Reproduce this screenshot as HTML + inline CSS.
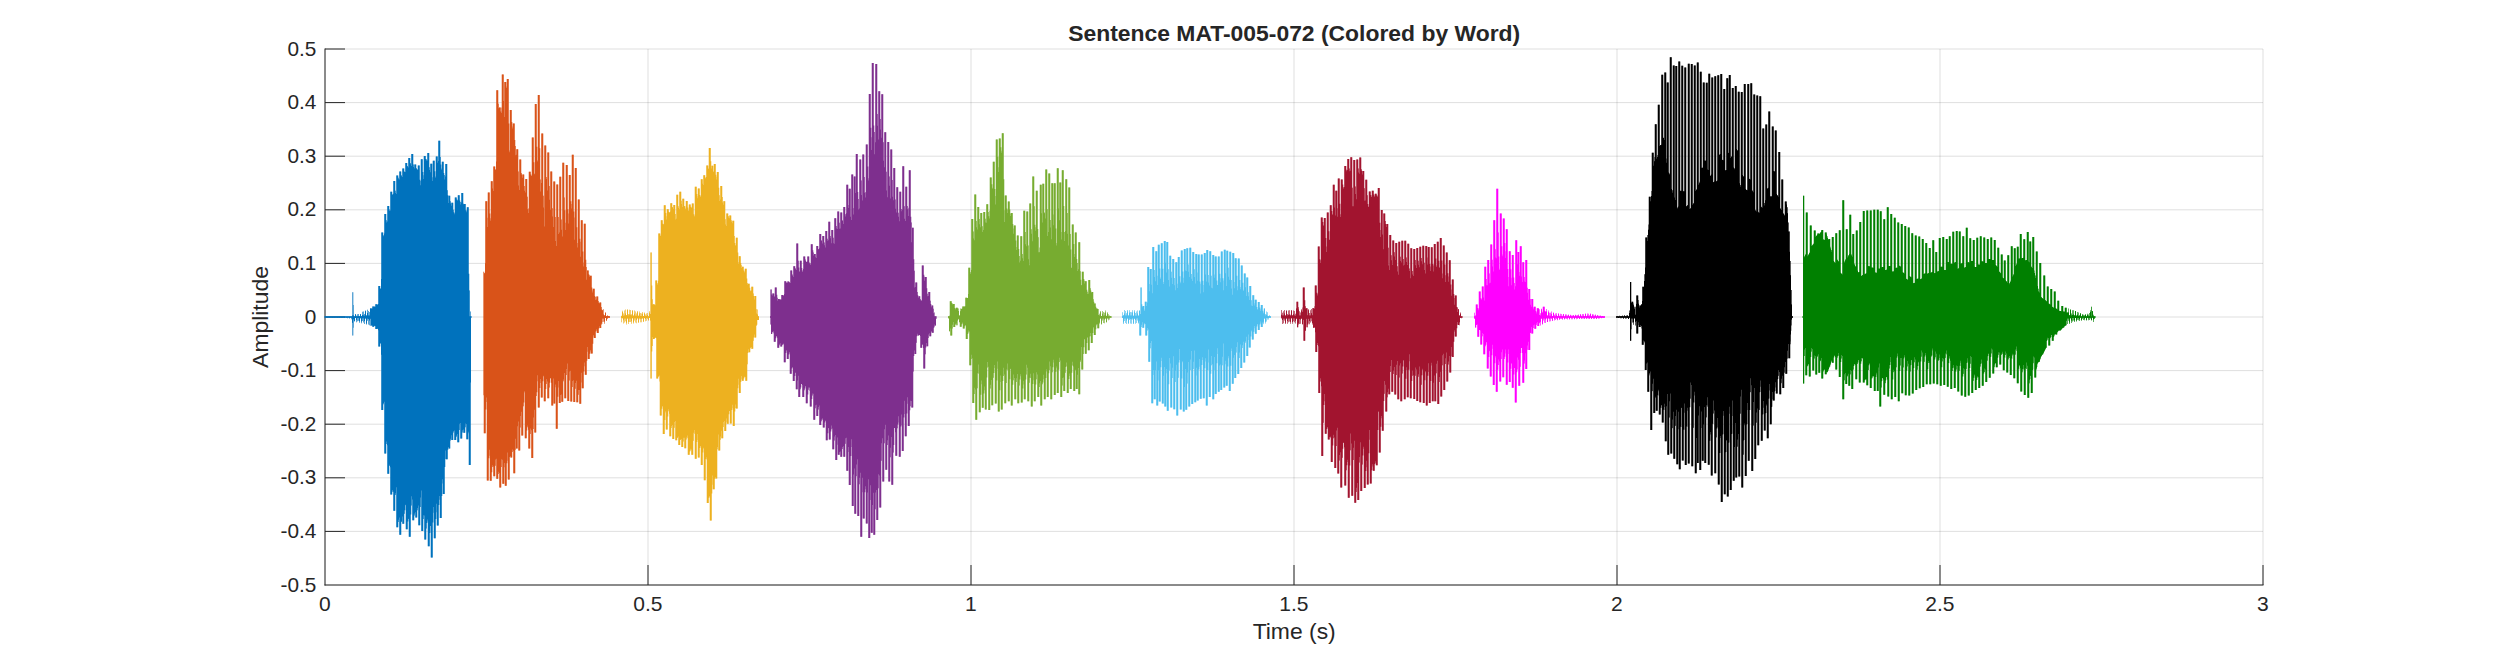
<!DOCTYPE html><html><head><meta charset="utf-8"><title>Sentence MAT-005-072 (Colored by Word)</title><style>html,body{margin:0;padding:0;background:#fff}svg{display:block}</style></head><body><svg width="2500" height="657" viewBox="0 0 2500 657">
<rect width="2500" height="657" fill="#fff"/>
<path d="M325.0,49.0V585.0M648.0,49.0V585.0M971.0,49.0V585.0M1294.0,49.0V585.0M1617.0,49.0V585.0M1940.0,49.0V585.0M2263.0,49.0V585.0M325.0,49.0H2263.0M325.0,102.6H2263.0M325.0,156.2H2263.0M325.0,209.8H2263.0M325.0,263.4H2263.0M325.0,317.0H2263.0M325.0,370.6H2263.0M325.0,424.2H2263.0M325.0,477.8H2263.0M325.0,531.4H2263.0M325.0,585.0H2263.0" stroke="#262626" stroke-opacity="0.15" stroke-width="1" fill="none"/>
<path d="M325.0,48.5V585.5M324.5,585.0H2263.5M648.0,585.0v-20M971.0,585.0v-20M1294.0,585.0v-20M1617.0,585.0v-20M1940.0,585.0v-20M2263.0,585.0v-20M325.0,49.0h20M325.0,102.6h20M325.0,156.2h20M325.0,209.8h20M325.0,263.4h20M325.0,317.0h20M325.0,370.6h20M325.0,424.2h20M325.0,477.8h20M325.0,531.4h20" stroke="#262626" stroke-width="1" fill="none"/>
<path fill="#0072BD" opacity="0.55" d="M324.5,316.2H326V316.2H326.5V316.2H328.5V316.2H329V316.2H331V316.2H331.5V316.2H333.5V316.2H334V316.2H335.5V316.2H336.5V316.2H338V316.2H338.5V316.2H340.5V316.2H341V316.2H343V316.2H343.5V316.2H345.5V316.2H346V316.2H348V316.2H348.5V316.2H350.5V316.2H351V316.2H352V315.5H352.5V292.3H353.5V315.5H354V316.2H355V314.4H355.5V314.1H356V315.7H356.5V316.2H357.5V314.3H358V314.1H358.5V315.9H359V316.2H359.5V316.0H360V314.1H360.5V314.2H361V316.0H361.5V316.2H362V315.1H362.5V311.8H363V311.6H363.5V315.5H364V315.8H364.5V313.9H365V310.5H365.5V311.2H366V315.6H367V313.0H367.5V309.7H368V311.0H368.5V315.5H369.5V311.9H370V308.6H370.5V308.3H371.5V308.4H372V306.4H374.5V306.6H375V304.3H377.5V304.6H378V285.9H380.5V288.4H381V232.6H383.5V235.3H384V214.1H386.5V220.3H387V206.0H389.5V209.6H390V191.8H392.5V194.2H393V180.9H395.5V190.7H396V175.6H398.5V177.8H399V171.6H401.5V175.3H402V168.6H404.5V171.5H405V163.0H407.5V166.2H408V157.9H410.5V162.9H411V153.9H413.5V164.4H414V164.5H416.5V168.0H417V169.1H417.5V165.4H420V179.8H420.5V159.2H423V171.9H423.5V155.9H426V159.1H426.5V159.5H427V153.0H429.5V167.3H430V163.7H432.5V160.8H435V171.3H435.5V156.5H438V140.7H440.5V157.1H441V164.4H441.5V161.8H444V173.0H444.5V175.1H445V164.1H447.5V190.2H448V195.3H448.5V195.8H450.5V201.2H451V202.8H453.5V209.8H454V212.3H454.5V197.5H457V199.5H457.5V195.2H460V200.5H460.5V202.1H461V192.9H463.5V203.7H464V203.9H466V210.2H466.5V207.3H469V273.7H469.5V290.4H470V316.2H470.5V311.6H471V316.2H471.5V317.8H471V464.9H470.5V464.9H470V464.9H469.5V464.9H469V464.9H468.5V439.3H468V439.3H467.5V439.3H467V439.3H466.5V439.3H466V427.3H465.5V432.7H465V432.7H464.5V432.7H464V432.7H463.5V432.7H463V432.5H462.5V438.6H462V438.6H461.5V438.6H461V438.6H460.5V438.6H460V429.9H459.5V442.3H459V442.3H458.5V442.3H458V442.3H457.5V442.3H457V436.7H456.5V439.9H456V439.9H455.5V439.9H455V439.9H454.5V439.9H454V432.4H453.5V439.9H453V439.9H452.5V439.9H452V439.9H451.5V439.9H451V440.4H450.5V448.6H450V448.6H449.5V448.6H449V448.6H448.5V449.7H448V459.3H447.5V459.3H447V459.3H446.5V459.3H446V459.3H445.5V467.0H445V494.1H444.5V494.1H444V494.1H443.5V494.1H443V494.1H442.5V495.9H442V518.1H441.5V518.1H441V518.1H440.5V518.1H440V518.1H439.5V505.1H439V525.4H438.5V525.4H438V525.4H437.5V525.4H437V525.4H436.5V519.0H436V538.2H435.5V538.2H435V538.2H434.5V538.2H434V538.2H433.5V522.6H433V557.4H432.5V557.4H432V557.4H431.5V557.4H431V557.4H430.5V533.1H430V546.2H429.5V546.2H429V546.2H428.5V546.2H428V546.2H427.5V523.0H427V528.6H426.5V539.4H426V539.4H425.5V539.4H425V539.4H424.5V539.4H424V518.9H423.5V531.0H423V531.0H422.5V531.0H422V531.0H421.5V531.0H421V507.0H420.5V525.3H420V525.3H419.5V525.3H419V525.3H418.5V525.3H418V510.3H417.5V517.5H417V517.5H416.5V517.5H416V517.5H415.5V517.5H415V515.6H414.5V520.3H414V520.3H413.5V520.3H413V520.3H412.5V520.3H412V505.5H411.5V514.5H411V536.8H410.5V536.8H410V536.8H409.5V536.8H409V536.8H408.5V521.6H408V529.3H407.5V529.3H407V529.3H406.5V529.3H406V529.3H405.5V510.2H405V513.7H404.5V523.8H404V523.8H403.5V523.8H403V523.8H402.5V523.8H402V522.0H401.5V534.8H401V534.8H400.5V534.8H400V534.8H399.5V534.8H399V522.1H398.5V527.3H398V527.3H397.5V527.3H397V527.3H396.5V527.3H396V495.0H395.5V510.8H395V510.8H394.5V510.8H394V510.8H393.5V510.8H393V491.7H392.5V494.5H392V494.5H391.5V494.5H391V494.5H390.5V494.5H390V466.1H389.5V473.8H389V473.8H388.5V473.8H388V473.8H387.5V473.8H387V444.0H386.5V453.4H386V453.4H385.5V453.4H385V453.4H384.5V453.4H384V404.2H383.5V410.0H383V410.0H382.5V410.0H382V410.0H381.5V410.0H381V343.4H380.5V346.4H380V346.4H379.5V346.4H379V346.4H378.5V346.4H378V328.8H377.5V329.0H377V329.0H376.5V329.0H376V329.0H375.5V329.0H375V326.1H374.5V326.7H374V326.7H373.5V326.7H373V326.7H372.5V326.7H372V325.5H371.5V325.7H371V325.7H370.5V318.7H370V320.5H369.5V325.2H369V324.5H368.5V318.9H368V318.6H367.5V320.8H367V324.6H366.5V323.5H366V318.5H365.5V318.4H365V321.0H364.5V324.0H364V322.5H363.5V318.3H363V318.3H362.5V321.1H362V323.3H361.5V321.6H361V318.2H360.5V318.2H360V321.2H359.5V322.8H359V320.8H358.5V318.1H358V318.1H357.5V321.2H357V322.2H356.5V320.1H356V318.0H355.5V318.0H355V320.9H354.5V321.4H354V319.2H353.5V335.5H353V335.5H352.5V322.7H352V319.2H351.5V317.8H351V317.8H350.5V317.8H350V318.2H349.5V318.2H349V317.8H348.5V317.8H348V317.8H347.5V318.2H347V318.1H346.5V317.8H346V317.8H345.5V317.8H345V318.1H344.5V318.0H344V317.8H343.5V317.8H343V317.8H342.5V318.1H342V317.9H341.5V317.8H341V317.8H340.5V317.8H340V318.1H339.5V317.8H339V317.8H338.5V317.8H338V317.8H337.5V318.0H337V317.8H336.5V317.8H336V317.8H335.5V317.8H335V318.0H334.5V317.8H334V317.8H333.5V317.8H333V317.8H332.5V317.9H332V317.8H331.5V317.8H331V317.8H330.5V317.8H330V317.9H329.5V317.8H329V317.8H328.5V317.8H328V317.8H327.5V317.9H327V317.8H326.5V317.8H326V317.8H325.5V317.8H325V317.8H324.5Z"/>
<path fill="#0072BD" d="M324.5,316.2H326V316.2H326.5V316.2H328.5V316.2H329V316.2H331V316.2H331.5V316.2H333.5V316.2H334V316.2H335.5V316.2H336.5V316.2H338V316.2H338.5V316.2H340.5V316.2H341V316.2H343V316.2H343.5V316.2H345.5V316.2H346V316.2H348V316.2H348.5V316.2H350.5V316.2H351V316.2H352V315.5H352.5V292.3H353V305.1H353.5V315.5H354V316.2H355V314.4H355.5V314.1H356V315.7H356.5V316.2H357.5V314.3H358V314.1H358.5V315.9H359V316.2H359.5V316.0H360V314.1H360.5V314.2H361V316.0H361.5V316.2H362V315.1H362.5V311.8H363V311.6H363.5V315.5H364V315.8H364.5V313.9H365V310.5H365.5V311.2H366V315.6H367V313.0H367.5V309.7H368V311.0H368.5V315.5H369.5V311.9H370V308.6H370.5V308.3H371V308.4H371.5V308.5H372.5V306.4H374V306.6H374.5V306.7H375.5V304.3H377V304.6H377.5V304.7H378V304.1H378.5V285.9H380V288.4H380.5V288.7H381V279.1H381.5V232.6H383V235.3H383.5V236.3H384V233.5H384.5V214.1H386V220.3H386.5V222.6H387V221.4H387.5V206.0H389V209.6H389.5V210.9H390V210.5H390.5V191.8H392V194.2H392.5V194.9H393V193.8H393.5V180.9H395V190.7H395.5V193.0H396V193.9H396.5V175.6H398V177.8H398.5V179.3H399V179.5H399.5V171.6H401V175.3H401.5V176.3H402V177.0H402.5V168.6H404V171.5H404.5V171.9H405.5V163.0H407V166.2H407.5V166.3H408V167.5H408.5V157.9H410V162.9H410.5V164.2H411V166.1H411.5V153.9H413V164.4H413.5V167.1H414V168.4H414.5V164.5H416V168.0H416.5V169.1H417V169.9H417.5V169.5H418V165.4H419.5V179.8H420V181.0H420.5V185.2H421V159.2H422.5V171.9H423V175.2H423.5V179.0H424V155.9H425.5V159.1H426V159.5H426.5V160.7H427V160.4H427.5V153.0H429V167.3H429.5V170.1H430V172.2H430.5V163.7H432V177.3H432.5V181.0H433V160.8H434.5V171.3H435V176.5H435.5V177.8H436V156.5H437.5V162.8H438V161.1H438.5V140.7H440V157.1H440.5V164.4H441V169.7H441.5V168.4H442V161.8H443.5V173.0H444V175.1H444.5V179.4H445V176.5H445.5V164.1H447V190.2H447.5V195.3H448V203.0H448.5V195.8H450V201.2H450.5V203.6H451V205.7H451.5V202.8H453V209.8H453.5V212.3H454V214.3H454.5V213.1H455V197.5H456.5V199.5H457V200.6H457.5V200.3H458V195.2H459.5V200.5H460V202.1H460.5V204.4H461V202.5H461.5V192.9H463V203.7H463.5V204.3H464V203.9H465.5V210.2H466V210.7H466.5V212.3H467V207.3H468.5V273.7H469V290.4H469.5V316.2H470.5V311.6H471V316.2H471.5V317.8H471V382.5H470.5V464.9H470V464.9H469.5V464.9H469V433.3H468.5V431.8H468V439.3H467.5V439.3H467V439.3H466.5V424.1H466V423.6H465.5V427.3H465V432.7H464.5V432.7H464V432.7H463.5V429.5H463V430.3H462.5V432.5H462V438.6H461.5V438.6H461V438.6H460.5V422.9H460V423.8H459.5V429.9H459V442.3H458.5V442.3H458V442.3H457.5V434.0H457V435.6H456.5V436.7H456V439.9H455.5V439.9H455V439.9H454.5V430.5H454V431.0H453.5V432.4H453V439.9H452.5V439.9H452V439.9H451.5V435.2H451V438.7H450.5V440.4H450V448.6H449.5V448.6H449V448.6H448.5V447.1H448V449.7H447.5V459.3H447V459.3H446.5V459.3H446V450.5H445.5V459.0H445V467.0H444.5V494.1H444V494.1H443.5V494.1H443V479.2H442.5V483.5H442V495.9H441.5V518.1H441V518.1H440.5V518.1H440V495.9H439.5V499.8H439V505.1H438.5V525.4H438V525.4H437.5V525.4H437V503.7H436.5V512.3H436V519.0H435.5V538.2H435V538.2H434.5V538.2H434V506.9H433.5V512.7H433V522.6H432.5V557.4H432V557.4H431.5V557.4H431V526.1H430.5V526.0H430V533.1H429.5V546.2H429V546.2H428.5V546.2H428V521.4H427.5V519.5H427V523.0H426.5V528.6H426V539.4H425.5V539.4H425V539.4H424.5V515.6H424V515.2H423.5V518.9H423V531.0H422.5V531.0H422V531.0H421.5V490.6H421V497.5H420.5V507.0H420V525.3H419.5V525.3H419V525.3H418.5V505.5H418V508.0H417.5V510.3H417V517.5H416.5V517.5H416V517.5H415.5V512.2H415V513.6H414.5V515.6H414V520.3H413.5V520.3H413V520.3H412.5V499.6H412V496.3H411.5V505.5H411V514.5H410.5V536.8H410V536.8H409.5V536.8H409V518.9H408.5V518.8H408V521.6H407.5V529.3H407V529.3H406.5V529.3H406V505.3H405.5V504.7H405V510.2H404.5V513.7H404V523.8H403.5V523.8H403V523.8H402.5V516.4H402V521.2H401.5V522.0H401V534.8H400.5V534.8H400V534.8H399.5V517.5H399V519.7H398.5V522.1H398V527.3H397.5V527.3H397V527.3H396.5V487.2H396V493.3H395.5V495.0H395V510.8H394.5V510.8H394V510.8H393.5V491.8H393V489.9H392.5V491.7H392V494.5H391.5V494.5H391V494.5H390.5V467.3H390V464.7H389.5V466.1H389V473.8H388.5V473.8H388V473.8H387.5V445.2H387V441.5H386.5V444.0H386V453.4H385.5V453.4H385V453.4H384.5V401.7H384V403.0H383.5V404.2H383V410.0H382.5V410.0H382V410.0H381.5V354.8H381V343.3H380.5V343.4H380V346.4H379.5V346.4H379V346.4H378.5V330.3H378V328.7H377.5V328.8H377V329.0H376.5V329.0H376V329.0H375.5V325.9H375V325.8H374.5V326.1H374V326.7H373.5V326.7H373V326.7H372.5V325.5H372V325.5H371.5V325.5H371V325.7H370.5V318.7H370V320.5H369.5V325.2H369V324.5H368.5V318.9H368V318.6H367.5V320.8H367V324.6H366.5V323.5H366V318.5H365.5V318.4H365V321.0H364.5V324.0H364V322.5H363.5V318.3H363V318.3H362.5V321.1H362V323.3H361.5V321.6H361V318.2H360.5V318.2H360V321.2H359.5V322.8H359V320.8H358.5V318.1H358V318.1H357.5V321.2H357V322.2H356.5V320.1H356V318.0H355.5V318.0H355V320.9H354.5V321.4H354V319.2H353.5V327.8H353V335.5H352.5V322.7H352V319.2H351.5V317.8H351V317.8H350.5V317.8H350V318.2H349.5V318.2H349V317.8H348.5V317.8H348V317.8H347.5V318.2H347V318.1H346.5V317.8H346V317.8H345.5V317.8H345V318.1H344.5V318.0H344V317.8H343.5V317.8H343V317.8H342.5V318.1H342V317.9H341.5V317.8H341V317.8H340.5V317.8H340V318.1H339.5V317.8H339V317.8H338.5V317.8H338V317.8H337.5V318.0H337V317.8H336.5V317.8H336V317.8H335.5V317.8H335V318.0H334.5V317.8H334V317.8H333.5V317.8H333V317.8H332.5V317.9H332V317.8H331.5V317.8H331V317.8H330.5V317.8H330V317.9H329.5V317.8H329V317.8H328.5V317.8H328V317.8H327.5V317.9H327V317.8H326.5V317.8H326V317.8H325.5V317.8H325V317.8H324.5Z"/>
<path fill="#D95319" opacity="0.55" d="M483.5,271.7H484.5V273.0H485V201.2H487.5V192.5H490V213.5H490.5V181.3H493V166.5H495.5V169.3H496V90.2H498.5V103.7H499V107.6H501V111.5H501.5V74.6H504V81.9H506.5V79.1H509V123.5H509.5V109.9H512V122.1H512.5V123.5H515V139.9H515.5V146.1H516V149.2H518.5V171.6H519V159.5H521.5V172.9H522V174.4H524.5V186.1H525V179.0H527.5V196.8H528V209.3H528.5V171.7H531V174.5H531.5V137.4H534V162.2H534.5V104.1H537V146.7H537.5V95.1H540V148.3H540.5V179.5H541V133.4H543.5V195.8H544V145.6H546.5V177.1H547V152.4H549.5V186.1H550V171.6H552.5V208.2H553V181.4H555.5V217.0H556V184.4H558.5V217.0H559V176.7H561.5V219.6H562V162.8H564.5V197.5H565V210.2H565.5V165.1H568V209.2H568.5V175.0H571V201.3H571.5V154.7H574V211.6H574.5V168.0H577V227.3H577.5V199.6H580V238.8H580.5V220.2H583V251.6H583.5V223.7H586V259.7H586.5V267.0H587V270.5H589V274.3H589.5V275.2H590V275.7H592V287.6H592.5V288.7H595V295.9H595.5V297.0H596V296.4H598.5V300.9H599V302.6H601.5V307.0H602V309.5H602.5V310.1H603V309.3H603.5V314.4H604V315.8H604.5V315.1H605V312.2H605.5V312.9H606V315.9H606.5V316.2H607V316.0H607.5V315.2H608V315.9H608.5V316.2H610V317.8H609.5V317.8H609V317.8H608.5V317.8H608V317.8H607.5V319.0H607V320.8H606.5V320.4H606V318.0H605.5V318.1H605V321.4H604.5V323.7H604V321.8H603.5V318.5H603V318.6H602.5V324.0H602V324.4H601.5V328.1H601V328.1H600.5V328.1H600V328.1H599.5V328.5H599V333.0H598.5V333.0H598V333.0H597.5V333.0H597V333.0H596.5V331.6H596V338.0H595.5V338.0H595V338.0H594.5V338.0H594V338.0H593.5V343.7H593V353.5H592.5V353.5H592V353.5H591.5V353.5H591V353.5H590.5V353.8H590V359.1H589.5V359.1H589V359.1H588.5V359.1H588V359.1H587.5V360.8H587V374.8H586.5V374.8H586V374.8H585.5V374.8H585V374.8H584.5V371.6H584V388.2H583.5V388.2H583V388.2H582.5V388.2H582V388.2H581.5V403.8H581V403.8H580.5V403.8H580V403.8H579.5V403.8H579V394.8H578.5V402.2H578V402.2H577.5V402.2H577V402.2H576.5V402.2H576V388.7H575.5V402.1H575V402.1H574.5V402.1H574V402.1H573.5V402.1H573V386.9H572.5V401.4H572V401.4H571.5V401.4H571V401.4H570.5V401.4H570V380.6H569.5V400.9H569V400.9H568.5V400.9H568V400.9H567.5V400.9H567V375.0H566.5V398.3H566V398.3H565.5V398.3H565V398.3H564.5V398.3H564V381.2H563.5V401.8H563V401.8H562.5V401.8H562V401.8H561.5V401.8H561V403.0H560.5V403.0H560V403.0H559.5V403.0H559V403.0H558.5V396.7H558V428.8H557.5V428.8H557V428.8H556.5V428.8H556V428.8H555.5V403.5H555V403.5H554.5V403.5H554V403.5H553.5V405.4H553V405.4H552.5V405.4H552V405.4H551.5V405.4H551V378.2H550.5V382.8H550V387.5H549.5V398.2H549V398.2H548.5V398.2H548V398.2H547.5V398.2H547V383.9H546.5V388.9H546V401.2H545.5V401.2H545V401.2H544.5V401.2H544V401.2H543.5V381.2H543V397.6H542.5V397.6H542V397.6H541.5V397.6H541V397.6H540.5V388.0H540V407.4H539.5V407.4H539V407.4H538.5V407.4H538V407.4H537.5V392.2H537V396.1H536.5V432.6H536V432.6H535.5V432.6H535V432.6H534.5V432.6H534V429.0H533.5V457.9H533V457.9H532.5V457.9H532V457.9H531.5V457.9H531V433.9H530.5V448.5H530V448.5H529.5V448.5H529V448.5H528.5V448.5H528V427.3H527.5V430.5H527V438.2H526.5V438.2H526V438.2H525.5V438.2H525V438.2H524.5V402.5H524V406.2H523.5V435.5H523V435.5H522.5V435.5H522V435.5H521.5V435.5H521V427.6H520.5V450.6H520V450.6H519.5V450.6H519V450.6H518.5V450.6H518V448.5H517.5V448.5H517V448.5H516.5V448.5H516V449.7H515.5V473.2H515V473.2H514.5V473.2H514V473.2H513.5V473.2H513V451.9H512.5V457.5H512V457.5H511.5V457.5H511V457.5H510.5V457.5H510V479.4H509.5V479.4H509V479.4H508.5V479.4H508V479.4H507.5V463.2H507V485.7H506.5V485.7H506V485.7H505.5V485.7H505V485.7H504.5V483.7H504V483.7H503.5V483.7H503V483.7H502.5V483.7H502V467.1H501.5V487.5H501V487.5H500.5V487.5H500V487.5H499.5V487.5H499V473.9H498.5V478.8H498V478.8H497.5V478.8H497V478.8H496.5V478.8H496V465.7H495.5V476.2H495V476.2H494.5V476.2H494V476.2H493.5V476.2H493V466.9H492.5V472.3H492V480.7H491.5V480.7H491V480.7H490.5V480.7H490V480.7H489.5V458.3H489V480.5H488.5V480.5H488V480.5H487.5V480.5H487V480.5H486.5V409.4H486V433.3H485.5V433.3H485V433.3H484.5V433.3H484V433.3H483.5Z"/>
<path fill="#D95319" d="M483.5,271.7H484V273.0H484.5V273.6H485V263.3H485.5V201.2H487V217.7H487.5V226.9H488V192.5H489.5V213.5H490V218.2H490.5V220.7H491V181.3H492.5V188.4H493V191.0H493.5V166.5H495V169.3H495.5V170.1H496V161.4H496.5V90.2H498V103.7H498.5V108.3H499V107.6H500.5V111.5H501V113.1H501.5V107.6H502V74.6H503.5V101.0H504V117.1H504.5V81.9H506V86.4H506.5V87.9H507V79.1H508.5V123.5H509V150.4H509.5V152.2H510V109.9H511.5V122.1H512V126.5H512.5V128.6H513V123.5H514.5V139.9H515V146.1H515.5V155.3H516V154.7H516.5V149.2H518V171.6H518.5V185.5H519V190.0H519.5V159.5H521V172.9H521.5V174.4H522V177.8H522.5V174.4H524V186.1H524.5V190.7H525V192.6H525.5V179.0H527V196.8H527.5V209.3H528V213.1H528.5V208.3H529V171.7H530.5V174.5H531V175.5H531.5V176.0H532V137.4H533.5V162.2H534V173.5H534.5V174.3H535V104.1H536.5V146.7H537V160.3H537.5V161.5H538V95.1H539.5V148.3H540V179.5H540.5V191.6H541V183.0H541.5V133.4H543V195.8H543.5V207.4H544V226.5H544.5V145.6H546V177.1H546.5V179.1H547V190.5H547.5V152.4H549V186.1H549.5V199.7H550V209.7H550.5V171.6H552V208.2H552.5V216.5H553V227.0H553.5V181.4H555V217.0H555.5V241.1H556V246.1H556.5V184.4H558V217.0H558.5V234.0H559V232.4H559.5V176.7H561V219.6H561.5V229.7H562V236.6H562.5V162.8H564V197.5H564.5V210.2H565V230.1H565.5V222.8H566V165.1H567.5V209.2H568V213.4H568.5V223.5H569V175.0H570.5V201.3H571V208.4H571.5V204.0H572V154.7H573.5V211.6H574V217.6H574.5V239.7H575V168.0H576.5V227.3H577V243.1H577.5V247.6H578V199.6H579.5V238.8H580V241.7H580.5V256.8H581V220.2H582.5V251.6H583V266.4H583.5V262.5H584V223.7H585.5V259.7H586V267.0H586.5V279.7H587V270.5H588.5V274.3H589V275.2H589.5V276.8H590V275.7H591.5V287.6H592V290.4H592.5V292.5H593V288.7H594.5V295.9H595V297.0H595.5V299.9H596V299.6H596.5V296.4H598V300.9H598.5V302.7H599V303.6H599.5V302.6H601V307.0H601.5V309.5H602V310.4H602.5V310.1H603V309.3H603.5V314.4H604V315.8H604.5V315.1H605V312.2H605.5V312.9H606V315.9H606.5V316.2H607V316.0H607.5V315.2H608V315.9H608.5V316.2H610V317.8H609.5V317.8H609V317.8H608.5V317.8H608V317.8H607.5V319.0H607V320.8H606.5V320.4H606V318.0H605.5V318.1H605V321.4H604.5V323.7H604V321.8H603.5V318.5H603V318.6H602.5V321.9H602V323.4H601.5V324.4H601V328.1H600.5V328.1H600V328.1H599.5V326.3H599V328.5H598.5V333.0H598V333.0H597.5V333.0H597V329.2H596.5V330.8H596V331.6H595.5V338.0H595V338.0H594.5V338.0H594V334.9H593.5V336.4H593V343.7H592.5V353.5H592V353.5H591.5V353.5H591V350.0H590.5V351.5H590V353.8H589.5V359.1H589V359.1H588.5V359.1H588V347.0H587.5V351.8H587V360.8H586.5V374.8H586V374.8H585.5V374.8H585V362.6H584.5V366.3H584V371.6H583.5V388.2H583V388.2H582.5V388.2H582V372.7H581.5V382.5H581V403.8H580.5V403.8H580V403.8H579.5V390.0H579V389.9H578.5V394.8H578V402.2H577.5V402.2H577V402.2H576.5V380.8H576V383.1H575.5V388.7H575V402.1H574.5V402.1H574V402.1H573.5V380.3H573V380.9H572.5V386.9H572V401.4H571.5V401.4H571V401.4H570.5V370.7H570V371.4H569.5V380.6H569V400.9H568.5V400.9H568V400.9H567.5V363.6H567V368.9H566.5V375.0H566V398.3H565.5V398.3H565V398.3H564.5V372.9H564V379.4H563.5V381.2H563V401.8H562.5V401.8H562V401.8H561.5V394.5H561V395.1H560.5V403.0H560V403.0H559.5V403.0H559V381.0H558.5V387.6H558V396.7H557.5V428.8H557V428.8H556.5V428.8H556V384.6H555.5V387.3H555V403.5H554.5V403.5H554V403.5H553.5V378.4H553V405.4H552.5V405.4H552V405.4H551.5V382.8H551V378.2H550.5V378.2H550V382.8H549.5V387.5H549V398.2H548.5V398.2H548V398.2H547.5V381.5H547V378.9H546.5V383.9H546V388.9H545.5V401.2H545V401.2H544.5V401.2H544V376.6H543.5V375.7H543V381.2H542.5V397.6H542V397.6H541.5V397.6H541V378.9H540.5V383.0H540V388.0H539.5V407.4H539V407.4H538.5V407.4H538V381.2H537.5V375.2H537V392.2H536.5V396.1H536V432.6H535.5V432.6H535V432.6H534.5V409.8H534V417.5H533.5V429.0H533V457.9H532.5V457.9H532V457.9H531.5V430.2H531V428.4H530.5V433.9H530V448.5H529.5V448.5H529V448.5H528.5V429.7H528V425.5H527.5V427.3H527V430.5H526.5V438.2H526V438.2H525.5V438.2H525V392.4H524.5V391.3H524V402.5H523.5V406.2H523V435.5H522.5V435.5H522V435.5H521.5V411.7H521V416.1H520.5V427.6H520V450.6H519.5V450.6H519V450.6H518.5V421.4H518V426.2H517.5V448.5H517V448.5H516.5V448.5H516V438.8H515.5V449.7H515V473.2H514.5V473.2H514V473.2H513.5V450.8H513V449.5H512.5V451.9H512V457.5H511.5V457.5H511V457.5H510.5V456.1H510V457.1H509.5V479.4H509V479.4H508.5V479.4H508V452.4H507.5V460.8H507V463.2H506.5V485.7H506V485.7H505.5V485.7H505V463.1H504.5V467.2H504V483.7H503.5V483.7H503V483.7H502.5V459.7H502V459.3H501.5V467.1H501V487.5H500.5V487.5H500V487.5H499.5V472.9H499V471.8H498.5V473.9H498V478.8H497.5V478.8H497V478.8H496.5V458.7H496V459.5H495.5V465.7H495V476.2H494.5V476.2H494V476.2H493.5V466.6H493V465.2H492.5V466.9H492V472.3H491.5V480.7H491V480.7H490.5V480.7H490V449.8H489.5V455.8H489V458.3H488.5V480.5H488V480.5H487.5V480.5H487V397.4H486.5V402.1H486V409.4H485.5V433.3H485V433.3H484.5V433.3H484V395.3H483.5Z"/>
<path fill="#EDB120" opacity="0.55" d="M621,316.2H621.5V315.8H622V312.0H622.5V310.7H623V313.6H623.5V315.7H624V315.5H624.5V310.6H625V309.6H625.5V313.5H626V315.4H626.5V314.9H627V309.8H627.5V309.4H628V314.1H628.5V315.5H629V314.5H629.5V309.8H630V310.0H630.5V314.8H631V315.6H631.5V314.2H632V310.2H632.5V310.7H633V315.4H633.5V315.7H634V313.8H634.5V310.6H635V311.5H635.5V315.7H636.5V313.6H637V311.0H637.5V312.2H638V315.8H639V313.5H639.5V311.5H640V313.0H640.5V315.9H641.5V313.4H642V312.0H642.5V313.7H643V316.0H644V313.5H644.5V312.5H645V314.4H645.5V316.1H646.5V313.6H647V313.0H647.5V314.9H648V316.2H649V312.8H649.5V311.3H650V314.0H650.5V252.5H652V285.5H652.5V299.3H653V304.3H655V280.4H657.5V283.3H658V233.6H660.5V220.2H663V223.8H663.5V205.2H666V213.1H666.5V209.3H669V211.7H669.5V212.0H670V203.2H672.5V207.0H673V205.1H675.5V214.0H676V194.7H678.5V206.2H679V191.7H681.5V200.8H682V198.7H684.5V205.9H685V206.3H685.5V200.9H688V207.6H688.5V204.6H691V206.7H691.5V203.6H694V214.3H694.5V186.7H697V193.9H697.5V188.5H700V194.9H700.5V179.2H703V175.2H705.5V177.5H706V165.5H708.5V148.1H711V161.3H711.5V165.7H713.5V164.1H716V174.8H716.5V171.9H719V187.8H719.5V195.3H720V186.0H722.5V196.9H723V201.3H725.5V219.3H726V213.5H728.5V216.1H729V215.4H731.5V220.2H732V220.7H734.5V235.9H735V242.9H735.5V237.8H738V252.4H738.5V256.3H741V263.1H741.5V265.3H742V266.8H744V270.5H744.5V268.8H747V278.4H747.5V283.1H748V283.7H750V287.8H750.5V290.4H751V286.7H753.5V293.5H754V296.0H754.5V296.1H756.5V309.3H757V309.6H757.5V314.6H758V316.2H759V320.1H758.5V320.1H758V320.1H757.5V324.8H757V325.7H756.5V337.5H756V337.5H755.5V337.5H755V337.5H754.5V337.6H754V340.7H753.5V348.8H753V348.8H752.5V348.8H752V348.8H751.5V348.8H751V348.3H750.5V352.2H750V352.2H749.5V352.2H749V352.2H748.5V353.0H748V364.3H747.5V380.7H747V380.7H746.5V380.7H746V380.7H745.5V380.7H745V377.2H744.5V378.5H744V380.7H743.5V380.7H743V380.7H742.5V380.7H742V380.7H741.5V381.9H741V393.0H740.5V393.0H740V393.0H739.5V393.0H739V393.0H738.5V388.2H738V408.4H737.5V408.4H737V408.4H736.5V408.4H736V408.4H735.5V411.5H735V425.9H734.5V425.9H734V425.9H733.5V425.9H733V425.9H732.5V410.0H732V423.5H731.5V423.5H731V423.5H730.5V423.5H730V423.5H729.5V414.3H729V423.8H728.5V423.8H728V423.8H727.5V423.8H727V423.8H726.5V431.0H726V431.0H725.5V431.0H725V431.0H724.5V431.0H724V427.0H723.5V438.2H723V438.2H722.5V438.2H722V438.2H721.5V438.2H721V439.7H720.5V450.6H720V450.6H719.5V450.6H719V450.6H718.5V450.6H718V449.3H717.5V478.4H717V478.4H716.5V478.4H716V478.4H715.5V478.8H715V489.2H714.5V489.2H714V489.2H713.5V489.2H713V489.2H712.5V493.5H712V520.4H711.5V520.4H711V520.4H710.5V520.4H710V520.4H709.5V497.7H709V502.9H708.5V502.9H708V502.9H707.5V502.9H707V502.9H706.5V458.9H706V480.3H705.5V480.3H705V480.3H704.5V480.3H704V480.3H703.5V452.6H703V464.9H702.5V464.9H702V464.9H701.5V464.9H701V464.9H700.5V447.9H700V457.5H699.5V457.5H699V457.5H698.5V457.5H698V457.5H697.5V441.9H697V458.8H696.5V458.8H696V458.8H695.5V458.8H695V458.8H694.5V432.7H694V440.8H693.5V454.7H693V454.7H692.5V454.7H692V454.7H691.5V454.7H691V450.5H690.5V451.6H690V454.7H689.5V454.7H689V454.7H688.5V454.7H688V454.7H687.5V437.5H687V439.6H686.5V448.3H686V448.3H685.5V448.3H685V448.3H684.5V448.3H684V441.6H683.5V447.1H683V447.1H682.5V447.1H682V447.1H681.5V447.1H681V439.9H680.5V444.9H680V444.9H679.5V444.9H679V444.9H678.5V444.9H678V437.9H677.5V440.3H677V440.3H676.5V440.3H676V440.3H675.5V440.3H675V427.8H674.5V439.1H674V439.1H673.5V439.1H673V439.1H672.5V439.1H672V428.1H671.5V436.2H671V436.2H670.5V436.2H670V436.2H669.5V436.2H669V411.3H668.5V416.4H668V429.5H667.5V429.5H667V429.5H666.5V429.5H666V429.5H665.5V419.9H665V434.1H664.5V434.1H664V434.1H663.5V434.1H663V434.1H662.5V408.8H662V415.6H661.5V415.6H661V415.6H660.5V415.6H660V415.6H659.5V376.2H659V376.7H658.5V378.6H658V378.6H657.5V378.6H657V378.6H656.5V378.6H656V337.8H655.5V338.0H655V338.9H654.5V338.9H654V338.9H653.5V338.9H653V345.9H652.5V351.4H652V378.6H651.5V378.6H651V378.6H650.5V320.5H650V318.0H649.5V317.9H649V320.1H648.5V320.8H648V319.0H647.5V317.8H647V317.9H646.5V320.8H646V321.3H645.5V319.0H645V317.9H644.5V318.3H644V321.5H643.5V321.8H643V318.8H642.5V318.0H642V318.8H641.5V322.2H641V322.2H640.5V318.7H640V318.1H639.5V319.3H639V322.7H638.5V322.3H638V318.4H637.5V318.2H637V320.0H636.5V323.2H636V322.4H635.5V318.3H635V318.3H634.5V320.6H634V323.5H633.5V322.3H633V318.3H632.5V318.3H632V321.3H631.5V323.8H631V322.1H630.5V318.4H630V318.4H629.5V322.0H629V324.1H628.5V321.8H628V318.4H627.5V318.5H627V322.7H626.5V324.4H626V321.3H625.5V318.4H625V318.4H624.5V322.6H624V323.5H623.5V320.3H623V318.2H622.5V318.3H622V322.2H621.5V317.8H621Z"/>
<path fill="#EDB120" d="M621,316.2H621.5V315.8H622V312.0H622.5V310.7H623V313.6H623.5V315.7H624V315.5H624.5V310.6H625V309.6H625.5V313.5H626V315.4H626.5V314.9H627V309.8H627.5V309.4H628V314.1H628.5V315.5H629V314.5H629.5V309.8H630V310.0H630.5V314.8H631V315.6H631.5V314.2H632V310.2H632.5V310.7H633V315.4H633.5V315.7H634V313.8H634.5V310.6H635V311.5H635.5V315.7H636.5V313.6H637V311.0H637.5V312.2H638V315.8H639V313.5H639.5V311.5H640V313.0H640.5V315.9H641.5V313.4H642V312.0H642.5V313.7H643V316.0H644V313.5H644.5V312.5H645V314.4H645.5V316.1H646.5V313.6H647V313.0H647.5V314.9H648V316.2H649V312.8H649.5V311.3H650V314.0H650.5V252.5H651.5V285.5H652V299.3H652.5V304.6H653V304.3H654.5V305.1H655V305.3H655.5V280.4H657V283.3H657.5V284.8H658V280.7H658.5V233.6H660V235.9H660.5V235.4H661V220.2H662.5V223.8H663V224.0H663.5V224.4H664V205.2H665.5V213.1H666V216.3H666.5V219.5H667V209.3H668.5V211.7H669V212.0H669.5V213.0H670V211.5H670.5V203.2H672V207.0H672.5V207.6H673V209.1H673.5V205.1H675V214.0H675.5V219.5H676V218.7H676.5V194.7H678V206.2H678.5V208.1H679V209.3H679.5V191.7H681V200.8H681.5V203.9H682V207.0H682.5V198.7H684V205.9H684.5V206.3H685V209.3H685.5V208.3H686V200.9H687.5V207.6H688V210.4H688.5V210.5H689V204.6H690.5V206.7H691V207.4H691.5V207.7H692V203.6H693.5V214.3H694V215.5H694.5V216.4H695V186.7H696.5V193.9H697V196.2H697.5V198.3H698V188.5H699.5V194.9H700V196.7H700.5V196.3H701V179.2H702.5V183.8H703V185.1H703.5V175.2H705V177.5H705.5V178.6H706V176.9H706.5V165.5H708V168.2H708.5V169.0H709V148.1H710.5V161.3H711V168.4H711.5V165.7H713V171.2H713.5V172.1H714V164.1H715.5V174.8H716V176.7H716.5V179.4H717V171.9H718.5V187.8H719V195.3H719.5V201.1H720V199.6H720.5V186.0H722V196.9H722.5V202.5H723V204.7H723.5V201.3H725V219.3H725.5V224.6H726V226.0H726.5V213.5H728V216.1H728.5V217.5H729V218.3H729.5V215.4H731V220.2H731.5V221.7H732V223.3H732.5V220.7H734V235.9H734.5V242.9H735V245.4H735.5V245.3H736V237.8H737.5V252.4H738V262.1H738.5V263.9H739V256.3H740.5V263.1H741V265.3H741.5V268.1H742V266.8H743.5V270.5H744V271.6H744.5V272.4H745V268.8H746.5V278.4H747V283.1H747.5V284.6H748V283.7H749.5V287.8H750V290.4H750.5V291.3H751V290.6H751.5V286.7H753V293.5H753.5V296.0H754V299.4H754.5V296.1H756V309.3H756.5V313.4H757V309.6H757.5V314.6H758V316.2H759V320.1H758.5V320.1H758V320.1H757.5V319.9H757V324.8H756.5V325.7H756V337.5H755.5V337.5H755V337.5H754.5V334.5H754V337.6H753.5V340.7H753V348.8H752.5V348.8H752V348.8H751.5V346.9H751V347.6H750.5V348.3H750V352.2H749.5V352.2H749V352.2H748.5V349.3H748V353.0H747.5V364.3H747V380.7H746.5V380.7H746V380.7H745.5V377.1H745V376.5H744.5V377.2H744V378.5H743.5V380.7H743V380.7H742.5V380.7H742V375.9H741.5V379.2H741V381.9H740.5V393.0H740V393.0H739.5V393.0H739V378.7H738.5V384.7H738V388.2H737.5V408.4H737V408.4H736.5V408.4H736V404.5H735.5V408.0H735V411.5H734.5V425.9H734V425.9H733.5V425.9H733V404.7H732.5V408.3H732V410.0H731.5V423.5H731V423.5H730.5V423.5H730V410.9H729.5V411.0H729V414.3H728.5V423.8H728V423.8H727.5V423.8H727V418.5H726.5V422.3H726V431.0H725.5V431.0H725V431.0H724.5V421.1H724V422.1H723.5V427.0H723V438.2H722.5V438.2H722V438.2H721.5V430.7H721V436.6H720.5V439.7H720V450.6H719.5V450.6H719V450.6H718.5V434.6H718V447.0H717.5V449.3H717V478.4H716.5V478.4H716V478.4H715.5V477.1H715V478.8H714.5V489.2H714V489.2H713.5V489.2H713V475.6H712.5V484.8H712V493.5H711.5V520.4H711V520.4H710.5V520.4H710V495.9H709.5V497.3H709V497.7H708.5V502.9H708V502.9H707.5V502.9H707V459.5H706.5V457.2H706V458.9H705.5V480.3H705V480.3H704.5V480.3H704V447.7H703.5V448.7H703V452.6H702.5V464.9H702V464.9H701.5V464.9H701V446.0H700.5V446.5H700V447.9H699.5V457.5H699V457.5H698.5V457.5H698V433.9H697.5V439.9H697V441.9H696.5V458.8H696V458.8H695.5V458.8H695V434.0H694.5V430.1H694V432.7H693.5V440.8H693V454.7H692.5V454.7H692V454.7H691.5V449.5H691V448.7H690.5V450.5H690V451.6H689.5V454.7H689V454.7H688.5V454.7H688V438.3H687.5V435.6H687V437.5H686.5V439.6H686V448.3H685.5V448.3H685V448.3H684.5V437.7H684V437.7H683.5V441.6H683V447.1H682.5V447.1H682V447.1H681.5V438.9H681V439.4H680.5V439.9H680V444.9H679.5V444.9H679V444.9H678.5V436.6H678V437.2H677.5V437.9H677V440.3H676.5V440.3H676V440.3H675.5V421.0H675V421.9H674.5V427.8H674V439.1H673.5V439.1H673V439.1H672.5V424.9H672V426.0H671.5V428.1H671V436.2H670.5V436.2H670V436.2H669.5V413.7H669V409.2H668.5V411.3H668V416.4H667.5V429.5H667V429.5H666.5V429.5H666V411.2H665.5V412.5H665V419.9H664.5V434.1H664V434.1H663.5V434.1H663V406.5H662.5V406.3H662V408.8H661.5V415.6H661V415.6H660.5V415.6H660V381.6H659.5V375.5H659V376.2H658.5V376.7H658V378.6H657.5V378.6H657V378.6H656.5V338.3H656V337.5H655.5V337.8H655V338.0H654.5V338.9H654V338.9H653.5V338.9H653V337.0H652.5V345.9H652V351.4H651.5V378.6H651V378.6H650.5V320.5H650V318.0H649.5V317.9H649V320.1H648.5V320.8H648V319.0H647.5V317.8H647V317.9H646.5V320.8H646V321.3H645.5V319.0H645V317.9H644.5V318.3H644V321.5H643.5V321.8H643V318.8H642.5V318.0H642V318.8H641.5V322.2H641V322.2H640.5V318.7H640V318.1H639.5V319.3H639V322.7H638.5V322.3H638V318.4H637.5V318.2H637V320.0H636.5V323.2H636V322.4H635.5V318.3H635V318.3H634.5V320.6H634V323.5H633.5V322.3H633V318.3H632.5V318.3H632V321.3H631.5V323.8H631V322.1H630.5V318.4H630V318.4H629.5V322.0H629V324.1H628.5V321.8H628V318.4H627.5V318.5H627V322.7H626.5V324.4H626V321.3H625.5V318.4H625V318.4H624.5V322.6H624V323.5H623.5V320.3H623V318.2H622.5V318.3H622V322.2H621.5V317.8H621Z"/>
<path fill="#7E2F8E" opacity="0.55" d="M770,316.2H770.5V289.5H772V293.6H774.5V287.4H777V294.8H777.5V297.8H778V299.1H780V299.4H780.5V299.5H781V294.9H783.5V295.4H784V281.2H786.5V282.5H787V281.4H789.5V282.3H790V270.6H792.5V274.5H793V266.3H795.5V268.2H796V243.4H798.5V260.8H799V267.4H799.5V260.8H802V268.0H802.5V270.6H803V256.6H805.5V259.4H806V261.0H806.5V261.9H807V256.6H809.5V262.4H810V263.5H810.5V244.3H813V250.3H813.5V252.4H814V253.9H816V246.0H818.5V248.9H819V234.0H821.5V240.3H822V235.9H824.5V242.5H825V230.9H827.5V238.7H828V221.7H830.5V236.0H831V230.1H833.5V237.8H834V218.2H836.5V226.0H837V211.4H839.5V222.8H840V212.5H842.5V220.3H843V207.1H845.5V214.3H846V184.7H848.5V188.8H851V174.4H853.5V176.5H855.5V153.9H858V191.9H858.5V199.1H859V159.4H861.5V180.4H862V154.4H864.5V177.1H865V192.7H865.5V144.6H868V166.5H868.5V94.1H871V127.7H871.5V63.0H874V125.4H874.5V131.9H875V64.1H877.5V113.9H878V91.2H880.5V119.1H881V94.3H883.5V142.3H884V132.3H886.5V171.7H887V142.1H889.5V176.5H890V149.4H892.5V179.9H893V168.1H895.5V199.5H896V187.3H898.5V212.7H899V191.7H901.5V209.0H902V166.2H904.5V206.3H905V186.7H907.5V206.1H908V209.2H908.5V170.3H911V216.8H911.5V222.4H912V227.8H914V259.3H914.5V270.7H915V282.6H917.5V291.9H918V295.3H918.5V296.3H920.5V299.1H921V300.3H921.5V265.6H924V274.8H924.5V276.7H925V276.9H927V288.2H927.5V293.8H928V292.1H930.5V300.7H931V304.1H931.5V305.4H933.5V308.8H934V312.6H934.5V316.2H936.5V318.7H936V325.5H935.5V325.5H935V326.5H934.5V327.7H934V332.7H933.5V332.7H933V332.7H932.5V332.7H932V332.7H931.5V336.3H931V336.3H930.5V336.3H930V336.3H929.5V336.3H929V337.9H928.5V346.3H928V346.3H927.5V346.3H927V346.3H926.5V347.6H926V354.2H925.5V368.4H925V368.4H924.5V368.4H924V368.4H923.5V368.4H923V345.1H922.5V347.8H922V347.8H921.5V347.8H921V347.8H920.5V347.8H920V335.0H919.5V335.5H919V335.5H918.5V335.5H918V335.5H917.5V336.3H917V342.7H916.5V354.0H916V354.0H915.5V354.0H915V354.0H914.5V356.1H914V371.4H913.5V407.4H913V407.4H912.5V407.4H912V407.4H911.5V407.4H911V406.2H910.5V410.3H910V425.9H909.5V425.9H909V425.9H908.5V425.9H908V425.9H907.5V413.6H907V436.2H906.5V436.2H906V436.2H905.5V436.2H905V436.2H904.5V417.5H904V451.1H903.5V451.1H903V451.1H902.5V451.1H902V451.1H901.5V426.5H901V456.7H900.5V456.7H900V456.7H899.5V456.7H899V456.7H898.5V424.5H898V428.3H897.5V455.7H897V455.7H896.5V455.7H896V455.7H895.5V455.7H895V428.1H894.5V445.0H894V452.4H893.5V484.7H893V484.7H892.5V484.7H892V484.7H891.5V484.7H891V457.3H890.5V481.6H890V481.6H889.5V481.6H889V481.6H888.5V481.6H888V445.0H887.5V469.7H887V469.7H886.5V469.7H886V469.7H885.5V469.7H885V443.3H884.5V481.4H884V481.4H883.5V481.4H883V481.4H882.5V481.4H882V460.7H881.5V507.4H881V507.4H880.5V507.4H880V507.4H879.5V507.4H879V488.2H878.5V520.0H878V520.0H877.5V520.0H877V520.0H876.5V520.0H876V509.2H875.5V534.8H875V534.8H874.5V534.8H874V534.8H873.5V534.8H873V532.7H872.5V532.7H872V532.7H871.5V532.7H871V532.7H870.5V538.1H870V538.1H869.5V538.1H869V538.1H868.5V538.1H868V523.4H867.5V523.4H867V523.4H866.5V523.4H866V523.4H865.5V492.2H865V518.6H864.5V518.6H864V518.6H863.5V518.6H863V518.6H862.5V536.8H862V536.8H861.5V536.8H861V536.8H860.5V536.8H860V484.2H859.5V516.0H859V516.0H858.5V516.0H858V516.0H857.5V516.0H857V476.2H856.5V513.7H856V513.7H855.5V513.7H855V513.7H854.5V513.7H854V506.0H853.5V506.0H853V506.0H852.5V506.0H852V506.0H851.5V455.9H851V484.9H850.5V484.9H850V484.9H849.5V484.9H849V484.9H848.5V470.8H848V470.8H847.5V470.8H847V470.8H846.5V470.8H846V443.7H845.5V456.7H845V456.7H844.5V456.7H844V456.7H843.5V456.7H843V449.0H842.5V456.7H842V456.7H841.5V456.7H841V456.7H840.5V456.7H840V454.7H839.5V454.7H839V454.7H838.5V454.7H838V454.7H837.5V460.0H837V460.0H836.5V460.0H836V460.0H835.5V460.0H835V440.6H834.5V449.2H834V449.2H833.5V449.2H833V449.2H832.5V449.2H832V429.3H831.5V431.6H831V439.6H830.5V439.6H830V439.6H829.5V439.6H829V439.6H828.5V433.3H828V440.3H827.5V440.3H827V440.3H826.5V440.3H826V440.3H825.5V422.5H825V427.4H824.5V427.4H824V427.4H823.5V427.4H823V427.4H822.5V419.6H822V421.3H821.5V424.9H821V424.9H820.5V424.9H820V424.9H819.5V424.9H819V409.4H818.5V416.1H818V416.1H817.5V416.1H817V416.1H816.5V416.1H816V408.2H815.5V419.7H815V419.7H814.5V419.7H814V419.7H813.5V419.7H813V395.6H812.5V399.1H812V406.4H811.5V406.4H811V406.4H810.5V406.4H810V406.4H809.5V387.6H809V389.8H808.5V394.6H808V403.3H807.5V403.3H807V403.3H806.5V403.3H806V403.3H805.5V388.5H805V390.3H804.5V397.1H804V397.1H803.5V397.1H803V397.1H802.5V397.1H802V384.1H801.5V387.6H801V389.3H800.5V397.1H800V397.1H799.5V397.1H799V397.1H798.5V397.1H798V389.3H797.5V389.3H797V389.3H796.5V389.3H796V389.3H795.5V375.9H795V381.1H794.5V381.1H794V381.1H793.5V381.1H793V381.1H792.5V368.6H792V373.7H791.5V373.7H791V373.7H790.5V373.7H790V373.7H789.5V354.4H789V358.9H788.5V358.9H788V358.9H787.5V358.9H787V358.9H786.5V352.9H786V362.2H785.5V362.2H785V362.2H784.5V362.2H784V362.2H783.5V344.4H783V344.8H782.5V346.5H782V346.5H781.5V346.5H781V346.5H780.5V346.5H780V345.2H779.5V347.8H779V347.8H778.5V347.8H778V347.8H777.5V347.8H777V336.6H776.5V338.2H776V341.8H775.5V341.8H775V341.8H774.5V341.8H774V341.8H773.5V331.7H773V332.3H772.5V333.9H772V333.9H771.5V333.9H771V324.4H770.5V317.8H770Z"/>
<path fill="#7E2F8E" d="M770,316.2H770.5V289.5H771.5V294.5H772V295.5H772.5V293.6H774V296.2H774.5V296.7H775V287.4H776.5V294.8H777V297.8H777.5V300.7H778V299.1H779.5V299.4H780V299.5H780.5V299.6H781V299.4H781.5V294.9H783V295.4H783.5V295.4H784V294.1H784.5V281.2H786V282.5H786.5V282.8H787V283.0H787.5V281.4H789V282.3H789.5V282.6H790V283.0H790.5V270.6H792V274.5H792.5V275.8H793V276.9H793.5V266.3H795V268.2H795.5V269.3H796V269.9H796.5V243.4H798V260.8H798.5V267.4H799V271.9H799.5V270.9H800V260.8H801.5V268.0H802V270.6H802.5V272.0H803V269.1H803.5V256.6H805V259.4H805.5V261.0H806V261.9H807V261.6H807.5V256.6H809V262.4H809.5V263.5H810V265.1H810.5V263.2H811V244.3H812.5V250.3H813V252.4H813.5V255.5H814V253.9H815.5V257.3H816V258.0H816.5V246.0H818V248.9H818.5V249.6H819V248.2H819.5V234.0H821V240.3H821.5V240.9H822V243.4H822.5V235.9H824V242.5H824.5V245.3H825V247.4H825.5V230.9H827V238.7H827.5V240.8H828V240.2H828.5V221.7H830V236.0H830.5V238.2H831V243.2H831.5V230.1H833V237.8H833.5V243.3H834V243.8H834.5V218.2H836V226.0H836.5V228.5H837V229.0H837.5V211.4H839V222.8H839.5V228.7H840V228.4H840.5V212.5H842V220.3H842.5V221.0H843V223.9H843.5V207.1H845V214.3H845.5V216.5H846V213.2H846.5V184.7H848V204.9H848.5V208.0H849V188.8H850.5V216.8H851V220.0H851.5V174.4H853V207.9H853.5V214.5H854V176.5H855.5V193.0H856V153.9H857.5V191.9H858V199.1H858.5V209.6H859V208.6H859.5V159.4H861V180.4H861.5V195.1H862V200.4H862.5V154.4H864V177.1H864.5V192.7H865V197.6H865.5V192.1H866V144.6H867.5V166.5H868V180.4H868.5V178.3H869V94.1H870.5V127.7H871V137.2H871.5V149.9H872V63.0H873.5V125.4H874V131.9H874.5V154.3H875V142.2H875.5V64.1H877V113.9H877.5V125.7H878V139.6H878.5V91.2H880V119.1H880.5V129.5H881V137.8H881.5V94.3H883V142.3H883.5V160.8H884V167.2H884.5V132.3H886V171.7H886.5V190.6H887V197.3H887.5V142.1H889V176.5H889.5V185.8H890V198.5H890.5V149.4H892V179.9H892.5V196.7H893V200.2H893.5V168.1H895V199.5H895.5V208.7H896V212.6H896.5V187.3H898V212.7H898.5V216.8H899V221.2H899.5V191.7H901V209.0H901.5V211.2H902V209.8H902.5V166.2H904V206.3H904.5V218.8H905V221.0H905.5V186.7H907V206.1H907.5V209.2H908V215.9H908.5V207.8H909V170.3H910.5V216.8H911V222.4H911.5V242.2H912V227.8H913.5V259.3H914V270.7H914.5V287.5H915V286.9H915.5V282.6H917V291.9H917.5V295.3H918V297.7H918.5V296.3H920V299.1H920.5V300.3H921V300.8H921.5V300.6H922V265.6H923.5V274.8H924V276.7H924.5V280.7H925V276.9H926.5V288.2H927V293.8H927.5V296.2H928V295.9H928.5V292.1H930V300.7H930.5V304.1H931V307.2H931.5V305.4H933V313.3H933.5V308.8H934V312.6H934.5V316.2H936.5V318.7H936V325.5H935.5V325.5H935V324.4H934.5V326.5H934V327.7H933.5V332.7H933V332.7H932.5V332.7H932V331.0H931.5V332.0H931V336.3H930.5V336.3H930V336.3H929.5V333.2H929V334.6H928.5V337.9H928V346.3H927.5V346.3H927V346.3H926.5V343.0H926V347.6H925.5V354.2H925V368.4H924.5V368.4H924V368.4H923.5V348.1H923V344.1H922.5V345.1H922V347.8H921.5V347.8H921V347.8H920.5V336.0H920V334.9H919.5V335.0H919V335.5H918.5V335.5H918V335.5H917.5V333.8H917V336.3H916.5V342.7H916V354.0H915.5V354.0H915V354.0H914.5V350.6H914V356.1H913.5V371.4H913V407.4H912.5V407.4H912V407.4H911.5V401.1H911V400.7H910.5V406.2H910V410.3H909.5V425.9H909V425.9H908.5V425.9H908V397.2H907.5V403.8H907V413.6H906.5V436.2H906V436.2H905.5V436.2H905V400.7H904.5V413.9H904V417.5H903.5V451.1H903V451.1H902.5V451.1H902V414.4H901.5V425.3H901V426.5H900.5V456.7H900V456.7H899.5V456.7H899V422.5H898.5V416.3H898V424.5H897.5V428.3H897V455.7H896.5V455.7H896V455.7H895.5V432.3H895V428.1H894.5V428.1H894V445.0H893.5V452.4H893V484.7H892.5V484.7H892V484.7H891.5V437.0H891V447.7H890.5V457.3H890V481.6H889.5V481.6H889V481.6H888.5V435.6H888V440.2H887.5V445.0H887V469.7H886.5V469.7H886V469.7H885.5V424.8H885V429.2H884.5V443.3H884V481.4H883.5V481.4H883V481.4H882.5V438.3H882V443.2H881.5V460.7H881V507.4H880.5V507.4H880V507.4H879.5V475.4H879V474.2H878.5V488.2H878V520.0H877.5V520.0H877V520.0H876.5V490.0H876V492.6H875.5V509.2H875V534.8H874.5V534.8H874V534.8H873.5V492.8H873V505.1H872.5V532.7H872V532.7H871.5V532.7H871V485.2H870.5V500.0H870V538.1H869.5V538.1H869V538.1H868.5V479.3H868V492.5H867.5V523.4H867V523.4H866.5V523.4H866V486.2H865.5V489.2H865V492.2H864.5V518.6H864V518.6H863.5V518.6H863V477.7H862.5V492.2H862V536.8H861.5V536.8H861V536.8H860.5V472.8H860V477.7H859.5V484.2H859V516.0H858.5V516.0H858V516.0H857.5V459.3H857V464.6H856.5V476.2H856V513.7H855.5V513.7H855V513.7H854.5V468.5H854V474.5H853.5V506.0H853V506.0H852.5V506.0H852V439.2H851.5V446.9H851V455.9H850.5V484.9H850V484.9H849.5V484.9H849V447.0H848.5V451.9H848V470.8H847.5V470.8H847V470.8H846.5V437.7H846V438.3H845.5V443.7H845V456.7H844.5V456.7H844V456.7H843.5V446.2H843V446.9H842.5V449.0H842V456.7H841.5V456.7H841V456.7H840.5V451.4H840V452.1H839.5V454.7H839V454.7H838.5V454.7H838V437.6H837.5V444.7H837V460.0H836.5V460.0H836V460.0H835.5V435.1H835V436.5H834.5V440.6H834V449.2H833.5V449.2H833V449.2H832.5V428.5H832V425.5H831.5V429.3H831V431.6H830.5V439.6H830V439.6H829.5V439.6H829V428.0H828.5V428.2H828V433.3H827.5V440.3H827V440.3H826.5V440.3H826V420.6H825.5V421.0H825V422.5H824.5V427.4H824V427.4H823.5V427.4H823V419.7H822.5V418.3H822V419.6H821.5V421.3H821V424.9H820.5V424.9H820V424.9H819.5V405.6H819V406.9H818.5V409.4H818V416.1H817.5V416.1H817V416.1H816.5V404.8H816V405.2H815.5V408.2H815V419.7H814.5V419.7H814V419.7H813.5V393.7H813V393.6H812.5V395.6H812V399.1H811.5V406.4H811V406.4H810.5V406.4H810V390.7H809.5V387.6H809V387.6H808.5V389.8H808V394.6H807.5V403.3H807V403.3H806.5V403.3H806V386.5H805.5V385.9H805V388.5H804.5V390.3H804V397.1H803.5V397.1H803V397.1H802.5V385.0H802V384.1H801.5V384.1H801V387.6H800.5V389.3H800V397.1H799.5V397.1H799V397.1H798.5V375.8H798V380.5H797.5V389.3H797V389.3H796.5V389.3H796V372.8H795.5V372.8H795V375.9H794.5V381.1H794V381.1H793.5V381.1H793V367.2H792.5V367.4H792V368.6H791.5V373.7H791V373.7H790.5V373.7H790V352.1H789.5V353.6H789V354.4H788.5V358.9H788V358.9H787.5V358.9H787V350.1H786.5V351.2H786V352.9H785.5V362.2H785V362.2H784.5V362.2H784V344.2H783.5V343.6H783V344.4H782.5V344.8H782V346.5H781.5V346.5H781V346.5H780.5V343.2H780V343.7H779.5V345.2H779V347.8H778.5V347.8H778V347.8H777.5V337.7H777V336.0H776.5V336.6H776V338.2H775.5V341.8H775V341.8H774.5V341.8H774V333.2H773.5V331.3H773V331.7H772.5V332.3H772V333.9H771.5V333.9H771V324.4H770.5V317.8H770Z"/>
<path fill="#77AC30" opacity="0.55" d="M948,316.2H949.5V301.2H952V303.0H952.5V303.7H953V304.0H955V307.9H955.5V307.7H958V308.5H958.5V311.1H959V315.4H960V311.2H960.5V308.5H961V308.8H961.5V308.8H962V306.4H964.5V306.6H965V297.7H967.5V298.0H968V267.8H970.5V272.2H971V219.1H973.5V231.6H974V194.5H976.5V220.9H977V207.0H979.5V219.0H980V212.9H982.5V226.2H983V212.1H985.5V218.7H986V204.2H988.5V211.9H989V216.3H989.5V177.4H992V184.2H992.5V161.7H995V189.0H995.5V139.5H998V156.8H998.5V138.5H1001V147.3H1001.5V133.3H1004V179.3H1004.5V195.5H1007V208.5H1007.5V201.4H1010V209.4H1010.5V212.9H1013V224.0H1013.5V225.4H1016V240.4H1016.5V235.4H1019V249.1H1019.5V255.9H1020V236.3H1022.5V254.0H1023V210.8H1025.5V231.9H1026V211.4H1028.5V245.4H1029V203.4H1031.5V229.2H1032V176.5H1034.5V206.2H1035V224.8H1035.5V190.8H1038V228.9H1038.5V237.2H1039V252.3H1039.5V184.7H1042V183.8H1044.5V212.6H1045V169.5H1047.5V209.3H1048V173.4H1050.5V219.9H1051V183.3H1056V228.6H1056.5V168.2H1059V182.6H1061.5V170.3H1064V206.1H1064.5V232.0H1065V179.2H1067.5V213.1H1068V187.4H1070.5V234.0H1071V249.4H1071.5V224.4H1074V244.1H1074.5V232.6H1077V259.0H1077.5V262.9H1078V242.2H1080.5V271.2H1081V279.8H1081.5V271.7H1084V279.1H1084.5V280.7H1085V281.2H1087V289.7H1087.5V291.7H1088V280.0H1090.5V288.3H1091V290.4H1091.5V291.9H1093.5V299.2H1094V301.8H1094.5V303.6H1096V306.7H1096.5V307.9H1097V308.8H1098V309.1H1098.5V315.1H1099V315.6H1099.5V313.8H1100V311.0H1100.5V312.3H1101V316.0H1101.5V315.9H1102V313.8H1102.5V311.0H1103V311.9H1103.5V315.7H1104V315.6H1104.5V312.7H1105V310.6H1105.5V312.4H1106V315.8H1106.5V315.9H1107V313.4H1107.5V312.2H1108V314.3H1108.5V316.2H1109.5V315.6H1110V316.0H1110.5V316.2H1111.5V317.8H1111V317.8H1110.5V317.8H1110V317.8H1109.5V319.4H1109V320.3H1108.5V318.5H1108V318.0H1107.5V318.8H1107V322.3H1106.5V322.3H1106V318.7H1105.5V318.2H1105V319.5H1104.5V323.2H1104V323.0H1103.5V318.6H1103V318.4H1102.5V320.5H1102V324.5H1101.5V323.7H1101V318.6H1100.5V318.6H1100V323.5H1099.5V328.3H1099V328.3H1098.5V328.3H1098V328.3H1097.5V328.3H1097V325.3H1096.5V329.2H1096V335.1H1095.5V335.1H1095V335.1H1094.5V335.1H1094V335.1H1093.5V332.9H1093V343.0H1092.5V343.0H1092V343.0H1091.5V343.0H1091V343.0H1090.5V336.5H1090V350.2H1089.5V350.2H1089V350.2H1088.5V350.2H1088V350.2H1087.5V342.9H1087V353.7H1086.5V353.7H1086V353.7H1085.5V353.7H1085V353.7H1084.5V347.3H1084V354.0H1083.5V369.4H1083V369.4H1082.5V369.4H1082V369.4H1081.5V369.4H1081V361.8H1080.5V394.3H1080V394.3H1079.5V394.3H1079V394.3H1078.5V394.3H1078V388.9H1077.5V388.9H1077V388.9H1076.5V388.9H1076V388.9H1075.5V391.0H1075V391.0H1074.5V391.0H1074V391.0H1073.5V391.0H1073V365.6H1072.5V372.8H1072V388.9H1071.5V388.9H1071V388.9H1070.5V388.9H1070V388.9H1069.5V379.1H1069V393.0H1068.5V393.0H1068V393.0H1067.5V393.0H1067V393.0H1066.5V367.0H1066V372.8H1065.5V391.0H1065V391.0H1064.5V391.0H1064V391.0H1063.5V391.0H1063V385.5H1062.5V397.1H1062V397.1H1061.5V397.1H1061V397.1H1060.5V397.1H1060V362.1H1059.5V369.8H1059V393.0H1058.5V393.0H1058V393.0H1057.5V393.0H1057V393.0H1056.5V371.7H1056V395.1H1055.5V395.1H1055V395.1H1054.5V395.1H1054V395.1H1053.5V367.3H1053V372.3H1052.5V399.2H1052V399.2H1051.5V399.2H1051V399.2H1050.5V399.2H1050V370.1H1049.5V373.3H1049V397.1H1048.5V397.1H1048V397.1H1047.5V397.1H1047V397.1H1046.5V377.9H1046V399.2H1045.5V399.2H1045V399.2H1044.5V399.2H1044V399.2H1043.5V382.6H1043V384.2H1042.5V405.4H1042V405.4H1041.5V405.4H1041V405.4H1040.5V405.4H1040V387.0H1039.5V397.1H1039V397.1H1038.5V397.1H1038V397.1H1037.5V397.1H1037V379.3H1036.5V384.6H1036V401.2H1035.5V401.2H1035V401.2H1034.5V401.2H1034V401.2H1033.5V384.1H1033V406.6H1032.5V406.6H1032V406.6H1031.5V406.6H1031V406.6H1030.5V377.8H1030V382.8H1029.5V401.2H1029V401.2H1028.5V401.2H1028V401.2H1027.5V401.2H1027V374.5H1026.5V379.4H1026V399.2H1025.5V399.2H1025V399.2H1024.5V399.2H1024V399.2H1023.5V388.4H1023V402.5H1022.5V402.5H1022V402.5H1021.5V402.5H1021V402.5H1020.5V379.4H1020V385.5H1019.5V403.3H1019V403.3H1018.5V403.3H1018V403.3H1017.5V403.3H1017V382.0H1016.5V399.2H1016V399.2H1015.5V399.2H1015V399.2H1014.5V399.2H1014V380.2H1013.5V384.7H1013V405.4H1012.5V405.4H1012V405.4H1011.5V405.4H1011V405.4H1010.5V379.2H1010V401.2H1009.5V401.2H1009V401.2H1008.5V401.2H1008V401.2H1007.5V369.4H1007V383.0H1006.5V403.3H1006V403.3H1005.5V403.3H1005V403.3H1004.5V403.3H1004V376.0H1003.5V380.9H1003V409.5H1002.5V409.5H1002V409.5H1001.5V409.5H1001V409.5H1000.5V390.3H1000V411.5H999.5V411.5H999V411.5H998.5V411.5H998V411.5H997.5V380.6H997V403.6H996.5V403.6H996V403.6H995.5V403.6H995V403.6H994.5V373.0H994V377.8H993.5V405.2H993V405.2H992.5V405.2H992V405.2H991.5V405.2H991V388.5H990.5V410.1H990V410.1H989.5V410.1H989V410.1H988.5V410.1H988V367.5H987.5V377.5H987V409.6H986.5V409.6H986V409.6H985.5V409.6H985V409.6H984.5V393.4H984V407.8H983.5V407.8H983V407.8H982.5V407.8H982V407.8H981.5V394.8H981V412.2H980.5V412.2H980V412.2H979.5V412.2H979V412.2H978.5V373.3H978V388.2H977.5V419.7H977V419.7H976.5V419.7H976V419.7H975.5V419.7H975V394.1H974.5V403.0H974V403.0H973.5V403.0H973V403.0H972.5V403.0H972V358.9H971.5V365.3H971V365.3H970.5V365.3H970V365.3H969.5V365.3H969V332.5H968.5V334.0H968V339.1H967.5V339.1H967V339.1H966.5V339.1H966V339.1H965.5V326.3H965V328.6H964.5V328.6H964V328.6H963.5V328.6H963V328.6H962.5V324.3H962V326.7H961.5V326.7H961V326.7H960.5V326.7H960V326.7H959.5V322.6H959V319.6H958.5V318.7H958V320.5H957.5V325.3H957V325.3H956.5V325.3H956V324.7H955.5V326.9H955V326.9H954.5V326.9H954V326.9H953.5V326.9H953V328.5H952.5V335.5H952V335.5H951.5V335.5H951V335.5H950.5V335.5H950V331.3H949.5V331.3H949V318.6H948.5V317.8H948Z"/>
<path fill="#77AC30" d="M948,316.2H949.5V315.6H950V301.2H951.5V303.0H952V303.7H952.5V304.4H953V304.0H954.5V307.9H955V308.7H955.5V309.6H956V307.7H957.5V308.6H958.5V311.1H959V315.4H960V311.2H960.5V308.5H961V308.8H961.5V308.9H962V308.4H962.5V306.4H964V306.6H964.5V306.6H965V306.2H965.5V297.7H967V298.0H967.5V298.1H968V293.9H968.5V267.8H970V272.2H970.5V273.9H971V270.1H971.5V219.1H973V231.6H973.5V238.4H974V240.2H974.5V194.5H976V220.9H976.5V227.2H977V229.5H977.5V207.0H979V219.0H979.5V224.3H980V227.2H980.5V212.9H982V226.2H982.5V232.1H983V230.0H983.5V212.1H985V218.7H985.5V222.4H986V222.8H986.5V204.2H988V211.9H988.5V216.3H989V218.6H989.5V210.7H990V177.4H991.5V184.2H992V188.7H992.5V187.7H993V161.7H994.5V189.0H995V195.9H995.5V204.5H996V139.5H997.5V156.8H998V167.2H998.5V172.1H999V138.5H1000.5V147.3H1001V150.8H1001.5V152.8H1002V133.3H1003.5V179.3H1004V210.3H1004.5V222.1H1005V195.5H1006.5V208.5H1007V209.8H1007.5V213.1H1008V201.4H1009.5V209.4H1010V213.7H1010.5V216.0H1011V212.9H1012.5V224.0H1013V228.4H1013.5V233.8H1014V225.4H1015.5V240.4H1016V247.0H1016.5V250.1H1017V235.4H1018.5V249.1H1019V255.9H1019.5V262.4H1020V260.8H1020.5V236.3H1022V254.0H1022.5V258.3H1023V260.9H1023.5V210.8H1025V231.9H1025.5V244.2H1026V246.3H1026.5V211.4H1028V245.4H1028.5V259.3H1029V265.3H1029.5V203.4H1031V229.2H1031.5V233.7H1032V241.3H1032.5V176.5H1034V206.2H1034.5V224.8H1035V230.7H1035.5V227.2H1036V190.8H1037.5V228.9H1038V237.2H1038.5V252.3H1039.5V247.6H1040V184.7H1041.5V213.3H1042V222.4H1042.5V183.8H1044V212.6H1044.5V213.3H1045V218.6H1045.5V169.5H1047V209.3H1047.5V236.0H1048V232.0H1048.5V173.4H1050V219.9H1050.5V227.4H1051V239.3H1051.5V183.3H1053V214.6H1053.5V225.2H1054V183.3H1055.5V228.6H1056V245.6H1056.5V242.9H1057V168.2H1058.5V208.5H1059V220.3H1059.5V182.6H1061V232.0H1061.5V239.6H1062V170.3H1063.5V206.1H1064V232.0H1064.5V240.9H1065V231.0H1065.5V179.2H1067V213.1H1067.5V233.8H1068V245.4H1068.5V187.4H1070V234.0H1070.5V249.4H1071V267.9H1071.5V267.4H1072V224.4H1073.5V244.1H1074V254.1H1074.5V257.0H1075V232.6H1076.5V259.0H1077V262.9H1077.5V271.1H1078V269.2H1078.5V242.2H1080V271.2H1080.5V279.8H1081V285.2H1081.5V285.1H1082V271.7H1083.5V279.1H1084V280.7H1084.5V283.5H1085V281.2H1086.5V289.7H1087V291.7H1087.5V294.0H1088V293.7H1088.5V280.0H1090V288.3H1090.5V290.4H1091V292.7H1091.5V291.9H1093V299.2H1093.5V301.8H1094V303.6H1095.5V306.7H1096V307.9H1096.5V309.0H1097V308.8H1098V309.1H1098.5V315.1H1099V315.6H1099.5V313.8H1100V311.0H1100.5V312.3H1101V316.0H1101.5V315.9H1102V313.8H1102.5V311.0H1103V311.9H1103.5V315.7H1104V315.6H1104.5V312.7H1105V310.6H1105.5V312.4H1106V315.8H1106.5V315.9H1107V313.4H1107.5V312.2H1108V314.3H1108.5V316.2H1109.5V315.6H1110V316.0H1110.5V316.2H1111.5V317.8H1111V317.8H1110.5V317.8H1110V317.8H1109.5V319.4H1109V320.3H1108.5V318.5H1108V318.0H1107.5V318.8H1107V322.3H1106.5V322.3H1106V318.7H1105.5V318.2H1105V319.5H1104.5V323.2H1104V323.0H1103.5V318.6H1103V318.4H1102.5V320.5H1102V324.5H1101.5V323.7H1101V318.6H1100.5V318.6H1100V322.4H1099.5V323.5H1099V328.3H1098.5V328.3H1098V328.3H1097.5V324.2H1097V324.0H1096.5V325.3H1096V329.2H1095.5V335.1H1095V335.1H1094.5V335.1H1094V326.9H1093.5V328.2H1093V332.9H1092.5V343.0H1092V343.0H1091.5V343.0H1091V332.9H1090.5V336.1H1090V336.5H1089.5V350.2H1089V350.2H1088.5V350.2H1088V337.2H1087.5V337.8H1087V342.9H1086.5V353.7H1086V353.7H1085.5V353.7H1085V339.5H1084.5V338.9H1084V347.3H1083.5V354.0H1083V369.4H1082.5V369.4H1082V369.4H1081.5V347.1H1081V360.2H1080.5V361.8H1080V394.3H1079.5V394.3H1079V394.3H1078.5V368.1H1078V374.7H1077.5V388.9H1077V388.9H1076.5V388.9H1076V369.8H1075.5V370.5H1075V391.0H1074.5V391.0H1074V391.0H1073.5V366.6H1073V361.7H1072.5V365.6H1072V372.8H1071.5V388.9H1071V388.9H1070.5V388.9H1070V373.6H1069.5V375.9H1069V379.1H1068.5V393.0H1068V393.0H1067.5V393.0H1067V365.9H1066.5V362.4H1066V367.0H1065.5V372.8H1065V391.0H1064.5V391.0H1064V391.0H1063.5V377.6H1063V378.0H1062.5V385.5H1062V397.1H1061.5V397.1H1061V397.1H1060.5V360.5H1060V357.7H1059.5V362.1H1059V369.8H1058.5V393.0H1058V393.0H1057.5V393.0H1057V366.5H1056.5V368.2H1056V371.7H1055.5V395.1H1055V395.1H1054.5V395.1H1054V362.6H1053.5V359.8H1053V367.3H1052.5V372.3H1052V399.2H1051.5V399.2H1051V399.2H1050.5V366.2H1050V361.4H1049.5V370.1H1049V373.3H1048.5V397.1H1048V397.1H1047.5V397.1H1047V369.2H1046.5V371.5H1046V377.9H1045.5V399.2H1045V399.2H1044.5V399.2H1044V379.3H1043.5V374.7H1043V382.6H1042.5V384.2H1042V405.4H1041.5V405.4H1041V405.4H1040.5V380.9H1040V383.2H1039.5V387.0H1039V397.1H1038.5V397.1H1038V397.1H1037.5V374.5H1037V372.3H1036.5V379.3H1036V384.6H1035.5V401.2H1035V401.2H1034.5V401.2H1034V373.2H1033.5V380.3H1033V384.1H1032.5V406.6H1032V406.6H1031.5V406.6H1031V378.0H1030.5V373.7H1030V377.8H1029.5V382.8H1029V401.2H1028.5V401.2H1028V401.2H1027.5V367.7H1027V364.8H1026.5V374.5H1026V379.4H1025.5V399.2H1025V399.2H1024.5V399.2H1024V380.8H1023.5V384.5H1023V388.4H1022.5V402.5H1022V402.5H1021.5V402.5H1021V376.3H1020.5V374.3H1020V379.4H1019.5V385.5H1019V403.3H1018.5V403.3H1018V403.3H1017.5V373.9H1017V378.2H1016.5V382.0H1016V399.2H1015.5V399.2H1015V399.2H1014.5V378.1H1014V374.4H1013.5V380.2H1013V384.7H1012.5V405.4H1012V405.4H1011.5V405.4H1011V369.1H1010.5V368.8H1010V379.2H1009.5V401.2H1009V401.2H1008.5V401.2H1008V370.2H1007.5V363.6H1007V369.4H1006.5V383.0H1006V403.3H1005.5V403.3H1005V403.3H1004.5V374.4H1004V367.8H1003.5V376.0H1003V380.9H1002.5V409.5H1002V409.5H1001.5V409.5H1001V375.5H1000.5V382.1H1000V390.3H999.5V411.5H999V411.5H998.5V411.5H998V361.6H997.5V368.7H997V380.6H996.5V403.6H996V403.6H995.5V403.6H995V367.9H994.5V365.0H994V373.0H993.5V377.8H993V405.2H992.5V405.2H992V405.2H991.5V379.9H991V384.8H990.5V388.5H990V410.1H989.5V410.1H989V410.1H988.5V366.7H988V362.1H987.5V367.5H987V377.5H986.5V409.6H986V409.6H985.5V409.6H985V386.4H984.5V390.3H984V393.4H983.5V407.8H983V407.8H982.5V407.8H982V380.5H981.5V384.2H981V394.8H980.5V412.2H980V412.2H979.5V412.2H979V373.7H978.5V364.5H978V373.3H977.5V388.2H977V419.7H976.5V419.7H976V419.7H975.5V389.5H975V387.7H974.5V394.1H974V403.0H973.5V403.0H973V403.0H972.5V358.2H972V354.7H971.5V358.9H971V365.3H970.5V365.3H970V365.3H969.5V331.6H969V330.4H968.5V332.5H968V334.0H967.5V339.1H967V339.1H966.5V339.1H966V325.1H965.5V325.4H965V326.3H964.5V328.6H964V328.6H963.5V328.6H963V322.6H962.5V323.6H962V324.3H961.5V326.7H961V326.7H960.5V326.7H960V322.2H959.5V322.0H959V319.6H958.5V318.7H958V320.5H957.5V325.3H957V325.3H956.5V323.6H956V323.8H955.5V324.7H955V326.9H954.5V326.9H954V326.9H953.5V321.9H953V324.7H952.5V328.5H952V335.5H951.5V335.5H951V335.5H950.5V328.5H950V331.3H949.5V331.3H949V318.6H948.5V317.8H948Z"/>
<path fill="#4DBEEE" opacity="0.55" d="M1122,316.2H1122.5V312.3H1123V315.3H1123.5V315.6H1124V313.6H1124.5V310.1H1125V311.0H1125.5V315.6H1126.5V313.2H1127V310.1H1127.5V311.4H1128V315.6H1129V312.7H1129.5V310.2H1130V311.9H1130.5V315.6H1131.5V312.2H1132V310.3H1132.5V312.5H1133V315.7H1134V311.8H1134.5V310.3H1135V313.0H1135.5V315.7H1136.5V311.5H1137V310.4H1137.5V313.5H1138V315.7H1138.5V315.6H1139V311.0H1139.5V310.2H1140V313.9H1140.5V287.4H1142V304.3H1142.5V305.9H1144.5V301.8H1147V266.9H1149.5V268.9H1152V247.1H1154.5V270.1H1155V251.3H1157.5V244.7H1160V268.5H1160.5V243.2H1163V268.8H1163.5V241.0H1166V242.0H1168.5V269.2H1169V255.8H1171.5V271.8H1172V259.1H1174.5V278.0H1175V262.2H1177.5V256.9H1180V276.3H1180.5V250.6H1183V271.5H1183.5V248.9H1186V248.2H1188.5V264.4H1189V247.8H1191.5V273.9H1192V252.0H1194.5V269.2H1195V254.1H1197.5V254.5H1200V281.6H1200.5V254.5H1203V280.7H1203.5V253.0H1206V250.0H1208.5V275.1H1209V251.2H1211.5V275.7H1212V255.0H1214.5V256.6H1217V280.4H1217.5V256.6H1220V273.7H1220.5V251.6H1223V278.2H1223.5V249.8H1226V250.8H1228.5V267.8H1229V251.8H1231.5V280.1H1232V252.9H1234.5V258.3H1237V275.7H1237.5V258.6H1240V280.1H1240.5V265.6H1243V282.8H1243.5V273.4H1246V277.6H1248.5V292.2H1249V286.1H1251.5V300.2H1252V295.3H1254.5V299.8H1257V307.0H1257.5V302.1H1260V307.6H1260.5V304.9H1263V310.8H1263.5V308.6H1265V313.9H1265.5V315.6H1266V314.8H1266.5V311.4H1267V312.3H1267.5V315.8H1268V316.2H1268.5V316.0H1269V315.3H1269.5V316.1H1270V316.2H1271V317.8H1270.5V317.8H1270V317.8H1269.5V317.8H1269V318.0H1268.5V319.5H1268V319.5H1267.5V317.9H1267V318.1H1266.5V321.4H1266V323.6H1265.5V321.7H1265V318.5H1264.5V318.6H1264V323.5H1263.5V324.3H1263V327.0H1262.5V327.0H1262V327.0H1261.5V327.0H1261V327.0H1260.5V324.4H1260V330.0H1259.5V330.0H1259V330.0H1258.5V330.0H1258V330.0H1257.5V326.5H1257V333.7H1256.5V333.7H1256V333.7H1255.5V333.7H1255V333.7H1254.5V331.8H1254V339.6H1253.5V339.6H1253V339.6H1252.5V339.6H1252V339.6H1251.5V336.6H1251V347.5H1250.5V347.5H1250V347.5H1249.5V347.5H1249V347.5H1248.5V356.1H1248V356.1H1247.5V356.1H1247V356.1H1246.5V356.1H1246V342.8H1245.5V362.6H1245V362.6H1244.5V362.6H1244V362.6H1243.5V362.6H1243V348.1H1242.5V368.1H1242V368.1H1241.5V368.1H1241V368.1H1240.5V368.1H1240V357.9H1239.5V373.9H1239V373.9H1238.5V373.9H1238V373.9H1237.5V373.9H1237V352.6H1236.5V378.0H1236V378.0H1235.5V378.0H1235V378.0H1234.5V378.0H1234V383.7H1233.5V383.7H1233V383.7H1232.5V383.7H1232V383.7H1231.5V365.8H1231V391.0H1230.5V391.0H1230V391.0H1229.5V391.0H1229V391.0H1228.5V366.6H1228V385.8H1227.5V385.8H1227V385.8H1226.5V385.8H1226V385.8H1225.5V387.5H1225V387.5H1224.5V387.5H1224V387.5H1223.5V387.5H1223V365.2H1222.5V389.9H1222V389.9H1221.5V389.9H1221V389.9H1220.5V389.9H1220V391.7H1219.5V391.7H1219V391.7H1218.5V391.7H1218V391.7H1217.5V363.2H1217V394.0H1216.5V394.0H1216V394.0H1215.5V394.0H1215V394.0H1214.5V399.2H1214V399.2H1213.5V399.2H1213V399.2H1212.5V399.2H1212V365.2H1211.5V373.8H1211V397.1H1210.5V397.1H1210V397.1H1209.5V397.1H1209V397.1H1208.5V370.0H1208V405.4H1207.5V405.4H1207V405.4H1206.5V405.4H1206V405.4H1205.5V368.2H1205V398.2H1204.5V398.2H1204V398.2H1203.5V398.2H1203V398.2H1202.5V365.1H1202V398.7H1201.5V398.7H1201V398.7H1200.5V398.7H1200V398.7H1199.5V369.6H1199V400.5H1198.5V400.5H1198V400.5H1197.5V400.5H1197V400.5H1196.5V402.3H1196V402.3H1195.5V402.3H1195V402.3H1194.5V402.3H1194V368.9H1193.5V404.1H1193V404.1H1192.5V404.1H1192V404.1H1191.5V404.1H1191V370.0H1190.5V406.4H1190V406.4H1189.5V406.4H1189V406.4H1188.5V406.4H1188V383.5H1187.5V409.7H1187V409.7H1186.5V409.7H1186V409.7H1185.5V409.7H1185V411.5H1184.5V411.5H1184V411.5H1183.5V411.5H1183V411.5H1182.5V378.6H1182V409.6H1181.5V409.6H1181V409.6H1180.5V409.6H1180V409.6H1179.5V362.5H1179V377.7H1178.5V415.6H1178V415.6H1177.5V415.6H1177V415.6H1176.5V415.6H1176V382.0H1175.5V409.3H1175V409.3H1174.5V409.3H1174V409.3H1173.5V409.3H1173V378.0H1172.5V407.5H1172V407.5H1171.5V407.5H1171V407.5H1170.5V407.5H1170V370.5H1169.5V384.2H1169V410.7H1168.5V410.7H1168V410.7H1167.5V410.7H1167V410.7H1166.5V406.4H1166V406.4H1165.5V406.4H1165V406.4H1164.5V406.4H1164V403.6H1163.5V403.6H1163V403.6H1162.5V403.6H1162V403.6H1161.5V367.2H1161V401.4H1160.5V401.4H1160V401.4H1159.5V401.4H1159V401.4H1158.5V405.4H1158V405.4H1157.5V405.4H1157V405.4H1156.5V405.4H1156V399.2H1155.5V399.2H1155V399.2H1154.5V399.2H1154V399.2H1153.5V403.3H1153V403.3H1152.5V403.3H1152V403.3H1151.5V403.3H1151V348.2H1150.5V361.7H1150V361.7H1149.5V361.7H1149V361.7H1148.5V361.7H1148V330.6H1147.5V335.5H1147V335.5H1146.5V335.5H1146V335.5H1145.5V335.5H1145V324.3H1144.5V327.8H1144V327.8H1143.5V327.8H1143V327.8H1142.5V327.8H1142V327.0H1141.5V335.5H1141V335.5H1140.5V335.5H1140V335.5H1139.5V335.5H1139V322.5H1138.5V323.6H1138V320.4H1137.5V318.3H1137V318.4H1136.5V323.0H1136V323.7H1135.5V320.0H1135V318.3H1134.5V318.9H1134V323.4H1133.5V323.7H1133V319.5H1132.5V318.3H1132V319.3H1131.5V323.8H1131V323.6H1130.5V319.1H1130V318.4H1129.5V319.9H1129V323.8H1128.5V323.3H1128V318.6H1127.5V318.4H1127V320.4H1126.5V323.9H1126V323.0H1125.5V318.4H1125V318.4H1124.5V320.9H1124V324.0H1123.5V322.6H1123V318.0H1122.5V317.8H1122Z"/>
<path fill="#4DBEEE" d="M1122,316.2H1122.5V312.3H1123V315.3H1123.5V315.6H1124V313.6H1124.5V310.1H1125V311.0H1125.5V315.6H1126.5V313.2H1127V310.1H1127.5V311.4H1128V315.6H1129V312.7H1129.5V310.2H1130V311.9H1130.5V315.6H1131.5V312.2H1132V310.3H1132.5V312.5H1133V315.7H1134V311.8H1134.5V310.3H1135V313.0H1135.5V315.7H1136.5V311.5H1137V310.4H1137.5V313.5H1138V315.7H1138.5V315.6H1139V311.0H1139.5V310.2H1140V313.9H1140.5V287.4H1141.5V304.3H1142V307.2H1142.5V305.9H1144V309.4H1144.5V311.1H1145V301.8H1146.5V306.0H1147V302.6H1147.5V266.9H1149V284.1H1149.5V291.2H1150V268.9H1151.5V284.7H1152V293.3H1152.5V247.1H1154V270.1H1154.5V277.1H1155V281.2H1155.5V251.3H1157V275.8H1157.5V285.0H1158V244.7H1159.5V268.5H1160V277.5H1160.5V278.9H1161V243.2H1162.5V268.8H1163V282.0H1163.5V284.0H1164V241.0H1165.5V262.7H1166V272.5H1166.5V242.0H1168V269.2H1168.5V279.9H1169V286.6H1169.5V255.8H1171V271.8H1171.5V277.7H1172V284.0H1172.5V259.1H1174V278.0H1174.5V285.3H1175V290.3H1175.5V262.2H1177V283.8H1177.5V288.0H1178V256.9H1179.5V276.3H1180V281.7H1180.5V283.2H1181V250.6H1182.5V271.5H1183V277.7H1183.5V282.7H1184V248.9H1185.5V270.6H1186V271.1H1186.5V248.2H1188V264.4H1188.5V271.7H1189V277.1H1189.5V247.8H1191V273.9H1191.5V278.8H1192V281.1H1192.5V252.0H1194V269.2H1194.5V276.9H1195V283.4H1195.5V254.1H1197V272.5H1197.5V280.8H1198V254.5H1199.5V281.6H1200V283.7H1200.5V293.4H1201V254.5H1202.5V280.7H1203V285.0H1203.5V292.2H1204V253.0H1205.5V274.6H1206V281.5H1206.5V250.0H1208V275.1H1208.5V282.4H1209V285.4H1209.5V251.2H1211V275.7H1211.5V287.8H1212V288.2H1212.5V255.0H1214V274.4H1214.5V277.8H1215V256.6H1216.5V280.4H1217V284.9H1217.5V285.1H1218V256.6H1219.5V273.7H1220V278.2H1220.5V282.2H1221V251.6H1222.5V278.2H1223V280.4H1223.5V290.3H1224V249.8H1225.5V273.2H1226V285.9H1226.5V250.8H1228V267.8H1228.5V276.7H1229V279.8H1229.5V251.8H1231V280.1H1231.5V288.4H1232V294.7H1232.5V252.9H1234V281.9H1234.5V288.2H1235V258.3H1236.5V275.7H1237V286.2H1237.5V290.2H1238V258.6H1239.5V280.1H1240V286.9H1240.5V289.3H1241V265.6H1242.5V282.8H1243V289.8H1243.5V290.9H1244V273.4H1245.5V287.2H1246V296.0H1246.5V277.6H1248V292.2H1248.5V296.2H1249V299.9H1249.5V286.1H1251V300.2H1251.5V305.4H1252V306.1H1252.5V295.3H1254V303.2H1254.5V305.5H1255V299.8H1256.5V307.0H1257V308.9H1257.5V309.7H1258V302.1H1259.5V307.6H1260V309.3H1260.5V311.0H1261V304.9H1262.5V310.8H1263V312.5H1263.5V313.4H1264V308.6H1265V313.9H1265.5V315.6H1266V314.8H1266.5V311.4H1267V312.3H1267.5V315.8H1268V316.2H1268.5V316.0H1269V315.3H1269.5V316.1H1270V316.2H1271V317.8H1270.5V317.8H1270V317.8H1269.5V317.8H1269V318.0H1268.5V319.5H1268V319.5H1267.5V317.9H1267V318.1H1266.5V321.4H1266V323.6H1265.5V321.7H1265V318.5H1264.5V318.6H1264V323.5H1263.5V321.8H1263V322.6H1262.5V327.0H1262V327.0H1261.5V327.0H1261V321.4H1260.5V323.4H1260V324.4H1259.5V330.0H1259V330.0H1258.5V330.0H1258V324.0H1257.5V324.4H1257V326.5H1256.5V333.7H1256V333.7H1255.5V333.7H1255V326.1H1254.5V328.2H1254V331.8H1253.5V339.6H1253V339.6H1252.5V339.6H1252V330.4H1251.5V331.5H1251V336.6H1250.5V347.5H1250V347.5H1249.5V347.5H1249V334.5H1248.5V340.0H1248V356.1H1247.5V356.1H1247V356.1H1246.5V336.8H1246V341.3H1245.5V342.8H1245V362.6H1244.5V362.6H1244V362.6H1243.5V341.8H1243V345.2H1242.5V348.1H1242V368.1H1241.5V368.1H1241V368.1H1240.5V344.6H1240V352.4H1239.5V357.9H1239V373.9H1238.5V373.9H1238V373.9H1237.5V342.3H1237V347.1H1236.5V352.6H1236V378.0H1235.5V378.0H1235V378.0H1234.5V355.1H1234V357.8H1233.5V383.7H1233V383.7H1232.5V383.7H1232V348.4H1231.5V351.0H1231V365.8H1230.5V391.0H1230V391.0H1229.5V391.0H1229V356.2H1228.5V358.3H1228V366.6H1227.5V385.8H1227V385.8H1226.5V385.8H1226V360.7H1225.5V364.2H1225V387.5H1224.5V387.5H1224V387.5H1223.5V343.6H1223V356.7H1222.5V365.2H1222V389.9H1221.5V389.9H1221V389.9H1220.5V364.5H1220V365.4H1219.5V391.7H1219V391.7H1218.5V391.7H1218V348.2H1217.5V354.1H1217V363.2H1216.5V394.0H1216V394.0H1215.5V394.0H1215V357.1H1214.5V370.1H1214V399.2H1213.5V399.2H1213V399.2H1212.5V364.3H1212V356.0H1211.5V365.2H1211V373.8H1210.5V397.1H1210V397.1H1209.5V397.1H1209V349.6H1208.5V362.4H1208V370.0H1207.5V405.4H1207V405.4H1206.5V405.4H1206V358.2H1205.5V361.6H1205V368.2H1204.5V398.2H1204V398.2H1203.5V398.2H1203V357.3H1202.5V360.1H1202V365.1H1201.5V398.7H1201V398.7H1200.5V398.7H1200V359.1H1199.5V366.8H1199V369.6H1198.5V400.5H1198V400.5H1197.5V400.5H1197V367.8H1196.5V375.5H1196V402.3H1195.5V402.3H1195V402.3H1194.5V350.6H1194V361.8H1193.5V368.9H1193V404.1H1192.5V404.1H1192V404.1H1191.5V351.0H1191V359.6H1190.5V370.0H1190V406.4H1189.5V406.4H1189V406.4H1188.5V362.0H1188V372.4H1187.5V383.5H1187V409.7H1186.5V409.7H1186V409.7H1185.5V369.0H1185V387.1H1184.5V411.5H1184V411.5H1183.5V411.5H1183V361.2H1182.5V362.2H1182V378.6H1181.5V409.6H1181V409.6H1180.5V409.6H1180V360.1H1179.5V349.0H1179V362.5H1178.5V377.7H1178V415.6H1177.5V415.6H1177V415.6H1176.5V364.8H1176V370.8H1175.5V382.0H1175V409.3H1174.5V409.3H1174V409.3H1173.5V356.2H1173V367.7H1172.5V378.0H1172V407.5H1171.5V407.5H1171V407.5H1170.5V363.5H1170V358.0H1169.5V370.5H1169V384.2H1168.5V410.7H1168V410.7H1167.5V410.7H1167V368.9H1166.5V373.2H1166V406.4H1165.5V406.4H1165V406.4H1164.5V366.9H1164V375.8H1163.5V403.6H1163V403.6H1162.5V403.6H1162V357.8H1161.5V360.9H1161V367.2H1160.5V401.4H1160V401.4H1159.5V401.4H1159V370.5H1158.5V380.4H1158V405.4H1157.5V405.4H1157V405.4H1156.5V361.6H1156V370.3H1155.5V399.2H1155V399.2H1154.5V399.2H1154V370.1H1153.5V375.0H1153V403.3H1152.5V403.3H1152V403.3H1151.5V341.1H1151V343.1H1150.5V348.2H1150V361.7H1149.5V361.7H1149V361.7H1148.5V329.5H1148V327.9H1147.5V330.6H1147V335.5H1146.5V335.5H1146V335.5H1145.5V323.9H1145V323.1H1144.5V324.3H1144V327.8H1143.5V327.8H1143V327.8H1142.5V322.3H1142V324.7H1141.5V327.0H1141V335.5H1140.5V335.5H1140V335.5H1139.5V320.8H1139V322.5H1138.5V323.6H1138V320.4H1137.5V318.3H1137V318.4H1136.5V323.0H1136V323.7H1135.5V320.0H1135V318.3H1134.5V318.9H1134V323.4H1133.5V323.7H1133V319.5H1132.5V318.3H1132V319.3H1131.5V323.8H1131V323.6H1130.5V319.1H1130V318.4H1129.5V319.9H1129V323.8H1128.5V323.3H1128V318.6H1127.5V318.4H1127V320.4H1126.5V323.9H1126V323.0H1125.5V318.4H1125V318.4H1124.5V320.9H1124V324.0H1123.5V322.6H1123V318.0H1122.5V317.8H1122Z"/>
<path fill="#A2142F" opacity="0.55" d="M1281,314.7H1281.5V310.0H1282V312.8H1282.5V315.6H1283.5V311.2H1284V310.1H1284.5V313.4H1285V315.6H1285.5V315.6H1286V310.9H1286.5V310.2H1287V313.9H1287.5V315.6H1288V315.1H1288.5V310.6H1289V310.2H1289.5V314.4H1290V315.7H1290.5V314.7H1291V310.3H1291.5V310.5H1292V314.9H1292.5V315.7H1293V314.3H1293.5V310.4H1294V310.9H1294.5V315.4H1295V315.7H1295.5V313.8H1296V308.4H1296.5V301.8H1298.5V307.2H1299V311.3H1299.5V315.6H1300.5V312.6H1301V309.3H1301.5V310.6H1302V311.6H1302.5V287.4H1305V300.2H1305.5V306.3H1306V308.3H1307.5V315.3H1308V310.3H1308.5V309.3H1309V313.1H1309.5V315.6H1310V315.5H1310.5V310.2H1311V309.1H1311.5V313.3H1312V315.3H1312.5V308.0H1314V308.5H1314.5V285.4H1317V292.7H1317.5V246.5H1320V259.3H1320.5V217.6H1323V222.1H1323.5V218.1H1326V237.9H1326.5V212.4H1329V231.2H1329.5V205.2H1332V210.9H1332.5V184.7H1335V190.8H1337.5V178.5H1340V203.7H1340.5V179.6H1343V184.4H1343.5V187.2H1344V165.9H1346.5V169.7H1347V158.9H1349.5V168.4H1350V157.2H1352.5V187.7H1353V160.0H1355.5V186.5H1356V159.5H1358.5V168.6H1359V157.6H1361.5V169.3H1362V170.7H1362.5V170.9H1364.5V188.2H1365V179.8H1367.5V195.2H1368V203.9H1368.5V191.4H1371V194.9H1371.5V190.8H1374V194.4H1374.5V193.7H1377V195.6H1377.5V188.0H1380V222.8H1380.5V209.9H1383V213.4H1385.5V221.1H1386V223.9H1388.5V247.7H1389V235.1H1391.5V255.3H1392V240.4H1394.5V252.2H1395V243.1H1397.5V266.2H1398V241.8H1400.5V256.8H1401V240.8H1403.5V259.1H1404V240.7H1406.5V257.5H1407V243.8H1409.5V268.4H1410V248.3H1412.5V270.9H1413V249.1H1415.5V259.9H1416V247.9H1418.5V260.8H1419V246.7H1421.5V258.0H1422V245.8H1424.5V262.7H1425V245.9H1427.5V247.1H1430V264.1H1430.5V247.2H1433V263.9H1433.5V243.9H1436V258.6H1436.5V241.8H1439V260.7H1439.5V238.1H1442V260.6H1442.5V245.6H1445V264.5H1445.5V252.4H1448V273.2H1448.5V260.3H1451V284.5H1451.5V279.5H1454V294.1H1454.5V295.4H1457V306.9H1457.5V307.6H1458V309.2H1459V315.4H1459.5V315.4H1460V312.6H1460.5V313.8H1461V316.2H1462.5V317.8H1462V317.8H1461.5V318.3H1461V317.8H1460.5V318.0H1460V322.2H1459.5V325.2H1459V325.0H1458.5V325.0H1458V325.0H1457.5V328.3H1457V336.4H1456.5V336.4H1456V336.4H1455.5V336.4H1455V336.4H1454.5V341.8H1454V357.1H1453.5V357.1H1453V357.1H1452.5V357.1H1452V357.1H1451.5V372.5H1451V372.5H1450.5V372.5H1450V372.5H1449.5V372.5H1449V364.5H1448.5V381.4H1448V381.4H1447.5V381.4H1447V381.4H1446.5V381.4H1446V364.1H1445.5V390.0H1445V390.0H1444.5V390.0H1444V390.0H1443.5V390.0H1443V365.3H1442.5V396.4H1442V396.4H1441.5V396.4H1441V396.4H1440.5V396.4H1440V382.1H1439.5V404.1H1439V404.1H1438.5V404.1H1438V404.1H1437.5V404.1H1437V373.2H1436.5V401.2H1436V401.2H1435.5V401.2H1435V401.2H1434.5V401.2H1434V401.2H1433.5V401.2H1433V401.2H1432.5V401.2H1432V401.2H1431.5V381.0H1431V403.0H1430.5V403.0H1430V403.0H1429.5V403.0H1429V403.0H1428.5V375.7H1428V405.4H1427.5V405.4H1427V405.4H1426.5V405.4H1426V405.4H1425.5V380.3H1425V403.1H1424.5V403.1H1424V403.1H1423.5V403.1H1423V403.1H1422.5V375.3H1422V384.7H1421.5V402.2H1421V402.2H1420.5V402.2H1420V402.2H1419.5V402.2H1419V376.7H1418.5V400.9H1418V400.9H1417.5V400.9H1417V400.9H1416.5V400.9H1416V375.7H1415.5V399.1H1415V399.1H1414.5V399.1H1414V399.1H1413.5V399.1H1413V375.7H1412.5V380.9H1412V398.2H1411.5V398.2H1411V398.2H1410.5V398.2H1410V398.2H1409.5V369.7H1409V397.3H1408.5V397.3H1408V397.3H1407.5V397.3H1407V397.3H1406.5V378.8H1406V399.3H1405.5V399.3H1405V399.3H1404.5V399.3H1404V399.3H1403.5V366.6H1403V373.4H1402.5V401.2H1402V401.2H1401.5V401.2H1401V401.2H1400.5V401.2H1400V377.6H1399.5V399.3H1399V399.3H1398.5V399.3H1398V399.3H1397.5V399.3H1397V374.9H1396.5V394.4H1396V394.4H1395.5V394.4H1395V394.4H1394.5V394.4H1394V374.1H1393.5V391.8H1393V391.8H1392.5V391.8H1392V391.8H1391.5V391.8H1391V372.1H1390.5V394.3H1390V394.3H1389.5V394.3H1389V394.3H1388.5V394.3H1388V397.3H1387.5V411.5H1387V411.5H1386.5V411.5H1386V411.5H1385.5V411.5H1385V393.8H1384.5V400.9H1384V430.7H1383.5V430.7H1383V430.7H1382.5V430.7H1382V430.7H1381.5V426.7H1381V452.4H1380.5V452.4H1380V452.4H1379.5V452.4H1379V452.4H1378.5V430.1H1378V465.2H1377.5V465.2H1377V465.2H1376.5V465.2H1376V465.2H1375.5V464.1H1375V470.8H1374.5V470.8H1374V470.8H1373.5V470.8H1373V470.8H1372.5V470.2H1372V483.4H1371.5V483.4H1371V483.4H1370.5V483.4H1370V483.4H1369.5V453.2H1369V484.5H1368.5V484.5H1368V484.5H1367.5V484.5H1367V484.5H1366.5V470.9H1366V487.9H1365.5V487.9H1365V487.9H1364.5V487.9H1364V487.9H1363.5V455.5H1363V464.4H1362.5V491.0H1362V491.0H1361.5V491.0H1361V491.0H1360.5V491.0H1360V462.6H1359.5V500.1H1359V500.1H1358.5V500.1H1358V500.1H1357.5V500.1H1357V492.1H1356.5V502.7H1356V502.7H1355.5V502.7H1355V502.7H1354.5V502.7H1354V459.9H1353.5V495.8H1353V495.8H1352.5V495.8H1352V495.8H1351.5V495.8H1351V450.3H1350.5V465.5H1350V497.8H1349.5V497.8H1349V497.8H1348.5V497.8H1348V497.8H1347.5V465.3H1347V470.2H1346.5V485.5H1346V485.5H1345.5V485.5H1345V485.5H1344.5V485.5H1344V442.8H1343.5V448.7H1343V457.7H1342.5V487.5H1342V487.5H1341.5V487.5H1341V487.5H1340.5V487.5H1340V460.5H1339.5V473.5H1339V473.5H1338.5V473.5H1338V473.5H1337.5V473.5H1337V445.9H1336.5V467.9H1336V467.9H1335.5V467.9H1335V467.9H1334.5V467.9H1334V438.3H1333.5V445.6H1333V461.9H1332.5V461.9H1332V461.9H1331.5V461.9H1331V461.9H1330.5V437.0H1330V439.4H1329.5V439.4H1329V439.4H1328.5V439.4H1328V439.4H1327.5V428.9H1327V433.7H1326.5V433.7H1326V433.7H1325.5V433.7H1325V433.7H1324.5V405.1H1324V422.7H1323.5V455.9H1323V455.9H1322.5V455.9H1322V455.9H1321.5V455.9H1321V381.6H1320.5V393.0H1320V393.0H1319.5V393.0H1319V393.0H1318.5V393.0H1318V344.9H1317.5V351.9H1317V351.9H1316.5V351.9H1316V351.9H1315.5V351.9H1315V327.5H1314.5V327.7H1314V327.7H1313.5V327.7H1313V323.1H1312.5V324.5H1312V321.2H1311.5V318.3H1311V318.2H1310.5V322.6H1310V324.3H1309.5V321.1H1309V318.7H1308.5V324.5H1308V327.3H1307.5V327.3H1307V327.3H1306.5V318.7H1306V330.9H1305.5V340.8H1305V340.8H1304.5V340.8H1304V340.8H1303.5V319.7H1303V324.5H1302.5V324.0H1302V319.1H1301.5V318.3H1301V319.6H1300.5V323.8H1300V323.9H1299.5V318.9H1299V324.5H1298.5V327.3H1298V327.3H1297.5V327.3H1297V318.7H1296.5V318.5H1296V320.7H1295.5V323.6H1295V322.3H1294.5V318.3H1294V318.3H1293.5V321.2H1293V323.7H1292.5V321.9H1292V318.3H1291.5V318.3H1291V321.8H1290.5V323.7H1290V321.5H1289.5V318.4H1289V318.4H1288.5V322.3H1288V323.8H1287.5V321.1H1287V318.4H1286.5V318.4H1286V322.8H1285.5V323.9H1285V320.6H1284.5V318.4H1284V318.5H1283.5V323.2H1283V323.9H1282.5V320.1H1282V318.4H1281.5V317.8H1281Z"/>
<path fill="#A2142F" d="M1281,314.7H1281.5V310.0H1282V312.8H1282.5V315.6H1283.5V311.2H1284V310.1H1284.5V313.4H1285V315.6H1285.5V315.6H1286V310.9H1286.5V310.2H1287V313.9H1287.5V315.6H1288V315.1H1288.5V310.6H1289V310.2H1289.5V314.4H1290V315.7H1290.5V314.7H1291V310.3H1291.5V310.5H1292V314.9H1292.5V315.7H1293V314.3H1293.5V310.4H1294V310.9H1294.5V315.4H1295V315.7H1295.5V313.8H1296V308.4H1296.5V301.8H1298V307.2H1298.5V309.4H1299V311.3H1299.5V315.6H1300.5V312.6H1301V309.3H1301.5V310.6H1302V311.9H1302.5V307.4H1303V287.4H1304.5V300.2H1305V306.3H1305.5V308.5H1306V308.3H1307.5V315.3H1308V310.3H1308.5V309.3H1309V313.1H1309.5V315.6H1310V315.5H1310.5V310.2H1311V309.1H1311.5V313.3H1312V315.3H1312.5V308.0H1313.5V308.5H1314V308.7H1314.5V306.2H1315V285.4H1316.5V292.7H1317V293.8H1317.5V295.5H1318V246.5H1319.5V259.3H1320V260.3H1320.5V263.0H1321V217.6H1322.5V222.1H1323V225.2H1323.5V225.8H1324V218.1H1325.5V237.9H1326V246.4H1326.5V252.0H1327V212.4H1328.5V231.2H1329V239.6H1329.5V240.1H1330V205.2H1331.5V210.9H1332V214.0H1332.5V215.0H1333V184.7H1334.5V207.5H1335V215.4H1335.5V190.8H1337V208.3H1337.5V216.7H1338V178.5H1339.5V203.7H1340V214.2H1340.5V217.1H1341V179.6H1342.5V184.4H1343V187.2H1343.5V188.7H1344V187.1H1344.5V165.9H1346V169.7H1346.5V171.3H1347V169.9H1347.5V158.9H1349V168.4H1349.5V171.3H1350V170.7H1350.5V157.2H1352V187.7H1352.5V206.2H1353.5V160.0H1355V186.5H1355.5V193.9H1356V199.2H1356.5V159.5H1358V168.6H1358.5V172.4H1359V173.7H1359.5V157.6H1361V169.3H1361.5V170.7H1362V174.4H1362.5V170.9H1364V188.2H1364.5V200.7H1365V200.5H1365.5V179.8H1367V195.2H1367.5V203.9H1368V206.9H1368.5V206.4H1369V191.4H1370.5V194.9H1371V196.4H1371.5V197.0H1372V190.8H1373.5V194.4H1374V196.2H1374.5V196.8H1375V193.7H1376.5V195.6H1377V196.9H1377.5V195.7H1378V188.0H1379.5V222.8H1380V230.0H1380.5V237.0H1381V209.9H1382.5V234.6H1383V249.2H1383.5V213.4H1385V221.1H1385.5V223.9H1386V227.0H1386.5V223.9H1388V247.7H1388.5V265.6H1389V270.1H1389.5V235.1H1391V255.3H1391.5V260.2H1392V264.9H1392.5V240.4H1394V252.2H1394.5V256.5H1395V260.0H1395.5V243.1H1397V266.2H1397.5V271.6H1398V274.8H1398.5V241.8H1400V256.8H1400.5V261.0H1401V262.6H1401.5V240.8H1403V259.1H1403.5V265.6H1404V264.7H1404.5V240.7H1406V257.5H1406.5V262.1H1407V264.9H1407.5V243.8H1409V268.4H1409.5V270.9H1410V278.3H1410.5V248.3H1412V270.9H1412.5V274.4H1413V276.0H1413.5V249.1H1415V259.9H1415.5V265.2H1416V268.1H1416.5V247.9H1418V260.8H1418.5V264.7H1419V267.2H1419.5V246.7H1421V258.0H1421.5V261.2H1422V264.2H1422.5V245.8H1424V262.7H1424.5V270.0H1425V273.4H1425.5V245.9H1427V257.4H1427.5V264.4H1428V247.1H1429.5V264.1H1430V266.4H1430.5V271.1H1431V247.2H1432.5V263.9H1433V265.5H1433.5V271.5H1434V243.9H1435.5V258.6H1436V265.5H1436.5V267.0H1437V241.8H1438.5V260.7H1439V267.8H1439.5V267.3H1440V238.1H1441.5V260.6H1442V273.5H1442.5V278.2H1443V245.6H1444.5V264.5H1445V275.2H1445.5V282.1H1446V252.4H1447.5V273.2H1448V276.5H1448.5V281.7H1449V260.3H1450.5V284.5H1451V289.5H1451.5V295.8H1452V279.5H1453.5V294.1H1454V298.0H1454.5V304.7H1455V295.4H1456.5V306.9H1457V307.6H1457.5V311.9H1458V309.2H1459V315.4H1459.5V315.4H1460V312.6H1460.5V313.8H1461V316.2H1462.5V317.8H1462V317.8H1461.5V318.3H1461V317.8H1460.5V318.0H1460V322.2H1459.5V325.2H1459V325.0H1458.5V325.0H1458V322.1H1457.5V324.4H1457V328.3H1456.5V336.4H1456V336.4H1455.5V336.4H1455V330.2H1454.5V331.8H1454V341.8H1453.5V357.1H1453V357.1H1452.5V357.1H1452V347.1H1451.5V356.0H1451V372.5H1450.5V372.5H1450V372.5H1449.5V355.9H1449V361.5H1448.5V364.5H1448V381.4H1447.5V381.4H1447V381.4H1446.5V352.6H1446V358.2H1445.5V364.1H1445V390.0H1444.5V390.0H1444V390.0H1443.5V353.7H1443V355.3H1442.5V365.3H1442V396.4H1441.5V396.4H1441V396.4H1440.5V371.7H1440V377.1H1439.5V382.1H1439V404.1H1438.5V404.1H1438V404.1H1437.5V360.7H1437V363.8H1436.5V373.2H1436V401.2H1435.5V401.2H1435V401.2H1434.5V375.4H1434V382.7H1433.5V401.2H1433V401.2H1432.5V401.2H1432V362.7H1431.5V365.6H1431V381.0H1430.5V403.0H1430V403.0H1429.5V403.0H1429V363.2H1428.5V371.9H1428V375.7H1427.5V405.4H1427V405.4H1426.5V405.4H1426V372.2H1425.5V371.1H1425V380.3H1424.5V403.1H1424V403.1H1423.5V403.1H1423V370.0H1422.5V368.8H1422V375.3H1421.5V384.7H1421V402.2H1420.5V402.2H1420V402.2H1419.5V366.4H1419V374.3H1418.5V376.7H1418V400.9H1417.5V400.9H1417V400.9H1416.5V369.4H1416V367.6H1415.5V375.7H1415V399.1H1414.5V399.1H1414V399.1H1413.5V375.3H1413V370.6H1412.5V375.7H1412V380.9H1411.5V398.2H1411V398.2H1410.5V398.2H1410V354.3H1409.5V361.2H1409V369.7H1408.5V397.3H1408V397.3H1407.5V397.3H1407V367.2H1406.5V370.0H1406V378.8H1405.5V399.3H1405V399.3H1404.5V399.3H1404V360.7H1403.5V359.9H1403V366.6H1402.5V373.4H1402V401.2H1401.5V401.2H1401V401.2H1400.5V363.2H1400V365.5H1399.5V377.6H1399V399.3H1398.5V399.3H1398V399.3H1397.5V361.1H1397V364.8H1396.5V374.9H1396V394.4H1395.5V394.4H1395V394.4H1394.5V367.1H1394V370.5H1393.5V374.1H1393V391.8H1392.5V391.8H1392V391.8H1391.5V360.1H1391V365.9H1390.5V372.1H1390V394.3H1389.5V394.3H1389V394.3H1388.5V388.8H1388V392.2H1387.5V397.3H1387V411.5H1386.5V411.5H1386V411.5H1385.5V384.8H1385V381.0H1384.5V393.8H1384V400.9H1383.5V430.7H1383V430.7H1382.5V430.7H1382V416.0H1381.5V418.2H1381V426.7H1380.5V452.4H1380V452.4H1379.5V452.4H1379V411.7H1378.5V411.6H1378V430.1H1377.5V465.2H1377V465.2H1376.5V465.2H1376V461.3H1375.5V462.9H1375V464.1H1374.5V470.8H1374V470.8H1373.5V470.8H1373V464.3H1372.5V466.4H1372V470.2H1371.5V483.4H1371V483.4H1370.5V483.4H1370V430.1H1369.5V439.7H1369V453.2H1368.5V484.5H1368V484.5H1367.5V484.5H1367V460.8H1366.5V467.3H1366V470.9H1365.5V487.9H1365V487.9H1364.5V487.9H1364V448.8H1363.5V446.7H1363V455.5H1362.5V464.4H1362V491.0H1361.5V491.0H1361V491.0H1360.5V442.3H1360V456.9H1359.5V462.6H1359V500.1H1358.5V500.1H1358V500.1H1357.5V483.1H1357V487.7H1356.5V492.1H1356V502.7H1355.5V502.7H1355V502.7H1354.5V440.7H1354V447.8H1353.5V459.9H1353V495.8H1352.5V495.8H1352V495.8H1351.5V443.6H1351V433.5H1350.5V450.3H1350V465.5H1349.5V497.8H1349V497.8H1348.5V497.8H1348V462.1H1347.5V459.7H1347V465.3H1346.5V470.2H1346V485.5H1345.5V485.5H1345V485.5H1344.5V447.3H1344V442.8H1343.5V442.8H1343V448.7H1342.5V457.7H1342V487.5H1341.5V487.5H1341V487.5H1340.5V452.3H1340V454.9H1339.5V460.5H1339V473.5H1338.5V473.5H1338V473.5H1337.5V427.7H1337V430.4H1336.5V445.9H1336V467.9H1335.5V467.9H1335V467.9H1334.5V437.6H1334V434.7H1333.5V438.3H1333V445.6H1332.5V461.9H1332V461.9H1331.5V461.9H1331V437.7H1330.5V436.5H1330V437.0H1329.5V439.4H1329V439.4H1328.5V439.4H1328V427.5H1327.5V427.3H1327V428.9H1326.5V433.7H1326V433.7H1325.5V433.7H1325V401.2H1324.5V394.1H1324V405.1H1323.5V422.7H1323V455.9H1322.5V455.9H1322V455.9H1321.5V386.2H1321V378.2H1320.5V381.6H1320V393.0H1319.5V393.0H1319V393.0H1318.5V346.2H1318V342.9H1317.5V344.9H1317V351.9H1316.5V351.9H1316V351.9H1315.5V332.2H1315V327.5H1314.5V327.5H1314V327.7H1313.5V327.7H1313V323.1H1312.5V324.5H1312V321.2H1311.5V318.3H1311V318.2H1310.5V322.6H1310V324.3H1309.5V321.1H1309V318.7H1308.5V323.5H1308V324.5H1307.5V327.3H1307V327.3H1306.5V318.7H1306V330.2H1305.5V330.9H1305V340.8H1304.5V340.8H1304V340.8H1303.5V319.7H1303V324.5H1302.5V324.0H1302V319.1H1301.5V318.3H1301V319.6H1300.5V323.8H1300V323.9H1299.5V318.9H1299V323.3H1298.5V324.5H1298V327.3H1297.5V327.3H1297V318.7H1296.5V318.5H1296V320.7H1295.5V323.6H1295V322.3H1294.5V318.3H1294V318.3H1293.5V321.2H1293V323.7H1292.5V321.9H1292V318.3H1291.5V318.3H1291V321.8H1290.5V323.7H1290V321.5H1289.5V318.4H1289V318.4H1288.5V322.3H1288V323.8H1287.5V321.1H1287V318.4H1286.5V318.4H1286V322.8H1285.5V323.9H1285V320.6H1284.5V318.4H1284V318.5H1283.5V323.2H1283V323.9H1282.5V320.1H1282V318.4H1281.5V317.8H1281Z"/>
<path fill="#FF00FF" opacity="0.55" d="M1474,316.2H1474.5V312.8H1475V316.2H1475.5V304.4H1478V308.1H1478.5V291.4H1481V298.3H1481.5V286.5H1484V266.7H1486.5V278.9H1487V259.9H1489.5V273.6H1490V244.6H1492.5V259.7H1493V220.2H1495.5V249.2H1496V188.8H1498.5V232.5H1499V256.6H1499.5V213.4H1502V246.3H1502.5V218.4H1505V243.0H1505.5V229.3H1508V268.9H1508.5V251.2H1511V269.3H1511.5V254.9H1514V277.6H1514.5V282.9H1515V240.2H1517.5V252.0H1519.5V246.3H1522V262.2H1524.5V277.1H1525V259.9H1527.5V287.7H1528V289.0H1530.5V299.0H1531V299.1H1533.5V306.7H1536V310.9H1536.5V308.3H1538.5V308.4H1539V309.2H1539.5V315.0H1540V315.4H1540.5V313.2H1541V308.8H1541.5V309.6H1542V311.6H1542.5V306.7H1545V310.8H1545.5V311.6H1546V308.9H1546.5V311.4H1547V315.6H1547.5V315.6H1548V312.3H1548.5V310.6H1549V312.8H1549.5V315.8H1550V315.8H1550.5V312.7H1551V311.6H1551.5V313.9H1552V316.0H1553V313.1H1553.5V312.5H1554V314.7H1554.5V316.2H1555.5V313.5H1556V313.3H1556.5V315.3H1557V316.2H1557.5V316.0H1558V313.7H1558.5V313.5H1559V315.7H1559.5V316.2H1560V315.9H1560.5V313.8H1561V313.9H1561.5V316.0H1562V316.2H1562.5V315.7H1563V314.0H1563.5V314.3H1564V316.2H1565V315.6H1565.5V314.2H1566V314.6H1566.5V316.2H1567.5V315.6H1568V314.5H1568.5V315.0H1569V316.2H1570V315.5H1570.5V314.7H1571V315.4H1571.5V316.2H1572.5V315.5H1573V314.9H1573.5V315.6H1574V316.2H1575V315.2H1575.5V314.7H1576V315.6H1576.5V316.2H1577.5V314.9H1578V314.4H1578.5V315.6H1579V316.2H1580V314.5H1580.5V314.2H1581V315.7H1581.5V316.2H1582V316.2H1582.5V314.1H1583V313.9H1583.5V315.8H1584V316.2H1584.5V315.9H1585V313.7H1586V315.9H1586.5V316.2H1587V315.6H1587.5V313.5H1588V313.7H1588.5V316.1H1589V316.2H1589.5V315.3H1590V313.5H1590.5V314.0H1591V316.2H1592V315.3H1592.5V314.0H1593V314.6H1593.5V316.2H1594.5V315.4H1595V314.5H1595.5V315.2H1596V316.2H1597V315.5H1597.5V315.0H1598V315.7H1598.5V316.2H1599.5V315.7H1600V315.5H1600.5V316.1H1601V316.2H1602V316.0H1602.5V315.9H1603V316.2H1605V317.8H1604.5V317.8H1604V317.9H1603.5V317.8H1603V317.8H1602.5V317.8H1602V318.1H1601.5V318.3H1601V317.8H1600.5V317.8H1600V317.8H1599.5V318.6H1599V318.8H1598.5V317.8H1598V317.8H1597.5V317.8H1597V319.1H1596.5V319.0H1596V317.8H1595.5V317.8H1595V317.9H1594.5V319.1H1594V318.9H1593.5V317.8H1593V317.8H1592.5V318.0H1592V319.1H1591.5V318.8H1591V317.8H1590.5V317.8H1590V318.2H1589.5V319.1H1589V318.7H1588.5V317.8H1588V317.8H1587.5V318.3H1587V319.1H1586.5V318.5H1586V317.8H1585.5V317.8H1585V318.5H1584.5V319.1H1584V318.4H1583.5V317.8H1583V317.8H1582.5V318.6H1582V319.1H1581.5V318.2H1581V317.8H1580.5V317.8H1580V318.8H1579.5V319.1H1579V318.1H1578.5V317.8H1578V317.8H1577.5V318.9H1577V319.2H1576.5V318.0H1576V317.8H1575.5V317.8H1575V319.1H1574.5V319.2H1574V317.8H1573.5V317.8H1573V317.8H1572.5V319.3H1572V319.2H1571.5V317.8H1571V317.8H1570.5V318.0H1570V319.3H1569.5V319.2H1569V317.8H1568.5V317.8H1568V318.2H1567.5V319.4H1567V319.1H1566.5V317.8H1566V317.8H1565.5V318.4H1565V319.5H1564.5V319.0H1564V317.8H1563.5V317.8H1563V318.7H1562.5V319.7H1562V319.0H1561.5V317.8H1561V317.8H1560.5V319.1H1560V320.0H1559.5V319.0H1559V317.8H1558.5V317.8H1558V319.4H1557.5V320.2H1557V318.9H1556.5V317.8H1556V317.8H1555.5V320.0H1555V320.6H1554.5V318.9H1554V317.8H1553.5V317.8H1553V320.6H1552.5V321.1H1552V318.9H1551.5V317.9H1551V318.2H1550.5V321.3H1550V321.6H1549.5V318.8H1549V318.0H1548.5V318.7H1548V322.1H1547.5V322.1H1547V318.7H1546.5V318.1H1546V319.4H1545.5V323.0H1545V322.8H1544.5V318.6H1544V318.4H1543.5V320.5H1543V324.5H1542.5V323.8H1542V318.6H1541.5V318.7H1541V321.8H1540.5V325.6H1540V323.2H1539.5V326.0H1539V326.0H1538.5V326.0H1538V326.0H1537.5V326.0H1537V324.9H1536.5V328.8H1536V328.8H1535.5V328.8H1535V328.8H1534.5V328.8H1534V327.9H1533.5V333.5H1533V333.5H1532.5V333.5H1532V333.5H1531.5V333.5H1531V332.9H1530.5V350.1H1530V350.1H1529.5V350.1H1529V350.1H1528.5V350.1H1528V349.7H1527.5V369.1H1527V369.1H1526.5V369.1H1526V369.1H1525.5V369.1H1525V363.5H1524.5V382.7H1524V382.7H1523.5V382.7H1523V382.7H1522.5V382.7H1522V348.1H1521.5V352.9H1521V366.8H1520.5V385.8H1520V385.8H1519.5V385.8H1519V385.8H1518.5V385.8H1518V369.6H1517.5V372.2H1517V402.5H1516.5V402.5H1516V402.5H1515.5V402.5H1515V402.5H1514.5V374.4H1514V387.8H1513.5V387.8H1513V387.8H1512.5V387.8H1512V387.8H1511.5V368.7H1511V382.1H1510.5V382.1H1510V382.1H1509.5V382.1H1509V382.1H1508.5V362.5H1508V384.8H1507.5V384.8H1507V384.8H1506.5V384.8H1506V384.8H1505.5V356.7H1505V358.9H1504.5V377.3H1504V377.3H1503.5V377.3H1503V377.3H1502.5V377.3H1502V359.0H1501.5V381.4H1501V381.4H1500.5V381.4H1500V381.4H1499.5V381.4H1499V364.9H1498.5V369.8H1498V391.8H1497.5V391.8H1497V391.8H1496.5V391.8H1496V391.8H1495.5V363.2H1495V384.9H1494.5V384.9H1494V384.9H1493.5V384.9H1493V384.9H1492.5V355.3H1492V376.6H1491.5V376.6H1491V376.6H1490.5V376.6H1490V376.6H1489.5V356.9H1489V368.5H1488.5V368.5H1488V368.5H1487.5V368.5H1487V368.5H1486.5V344.8H1486V346.3H1485.5V354.3H1485V354.3H1484.5V354.3H1484V354.3H1483.5V354.3H1483V336.2H1482.5V344.4H1482V344.4H1481.5V344.4H1481V344.4H1480.5V344.4H1480V330.1H1479.5V336.7H1479V336.7H1478.5V336.7H1478V336.7H1477.5V336.7H1477V324.9H1476.5V327.6H1476V327.6H1475.5V327.6H1475V318.9H1474.5V317.8H1474Z"/>
<path fill="#FF00FF" d="M1474,316.2H1474.5V312.8H1475V316.2H1475.5V315.1H1476V304.4H1477.5V308.1H1478V310.3H1478.5V308.8H1479V291.4H1480.5V298.3H1481V298.8H1481.5V299.7H1482V286.5H1483.5V297.5H1484V300.4H1484.5V266.7H1486V278.9H1486.5V285.2H1487.5V259.9H1489V273.6H1489.5V283.3H1490V282.8H1490.5V244.6H1492V259.7H1492.5V266.6H1493V271.5H1493.5V220.2H1495V249.2H1495.5V257.6H1496V258.2H1496.5V188.8H1498V232.5H1498.5V256.6H1499V269.9H1499.5V268.8H1500V213.4H1501.5V246.3H1502V254.5H1502.5V256.2H1503V218.4H1504.5V243.0H1505V251.3H1505.5V258.1H1506V229.3H1507.5V268.9H1508V277.1H1508.5V286.2H1509V251.2H1510.5V269.3H1511V277.8H1511.5V285.2H1512V254.9H1513.5V277.6H1514V282.9H1514.5V289.4H1515V286.2H1515.5V240.2H1517V264.3H1517.5V252.0H1519V271.9H1519.5V275.8H1520V246.3H1521.5V276.6H1522V282.1H1522.5V262.2H1524V277.1H1524.5V281.5H1525V281.9H1525.5V259.9H1527V287.7H1527.5V292.7H1528V299.7H1528.5V289.0H1530V299.0H1530.5V304.7H1531V306.8H1531.5V299.1H1533V307.6H1533.5V309.3H1534V306.7H1535.5V310.9H1536V311.9H1536.5V313.6H1537V308.3H1538.5V308.4H1539V309.2H1539.5V315.0H1540V315.4H1540.5V313.2H1541V308.8H1541.5V309.6H1542V312.5H1543V306.7H1544.5V310.8H1545V311.8H1545.5V311.6H1546V308.9H1546.5V311.4H1547V315.6H1547.5V315.6H1548V312.3H1548.5V310.6H1549V312.8H1549.5V315.8H1550V315.8H1550.5V312.7H1551V311.6H1551.5V313.9H1552V316.0H1553V313.1H1553.5V312.5H1554V314.7H1554.5V316.2H1555.5V313.5H1556V313.3H1556.5V315.3H1557V316.2H1557.5V316.0H1558V313.7H1558.5V313.5H1559V315.7H1559.5V316.2H1560V315.9H1560.5V313.8H1561V313.9H1561.5V316.0H1562V316.2H1562.5V315.7H1563V314.0H1563.5V314.3H1564V316.2H1565V315.6H1565.5V314.2H1566V314.6H1566.5V316.2H1567.5V315.6H1568V314.5H1568.5V315.0H1569V316.2H1570V315.5H1570.5V314.7H1571V315.4H1571.5V316.2H1572.5V315.5H1573V314.9H1573.5V315.6H1574V316.2H1575V315.2H1575.5V314.7H1576V315.6H1576.5V316.2H1577.5V314.9H1578V314.4H1578.5V315.6H1579V316.2H1580V314.5H1580.5V314.2H1581V315.7H1581.5V316.2H1582V316.2H1582.5V314.1H1583V313.9H1583.5V315.8H1584V316.2H1584.5V315.9H1585V313.7H1586V315.9H1586.5V316.2H1587V315.6H1587.5V313.5H1588V313.7H1588.5V316.1H1589V316.2H1589.5V315.3H1590V313.5H1590.5V314.0H1591V316.2H1592V315.3H1592.5V314.0H1593V314.6H1593.5V316.2H1594.5V315.4H1595V314.5H1595.5V315.2H1596V316.2H1597V315.5H1597.5V315.0H1598V315.7H1598.5V316.2H1599.5V315.7H1600V315.5H1600.5V316.1H1601V316.2H1602V316.0H1602.5V315.9H1603V316.2H1605V317.8H1604.5V317.8H1604V317.9H1603.5V317.8H1603V317.8H1602.5V317.8H1602V318.1H1601.5V318.3H1601V317.8H1600.5V317.8H1600V317.8H1599.5V318.6H1599V318.8H1598.5V317.8H1598V317.8H1597.5V317.8H1597V319.1H1596.5V319.0H1596V317.8H1595.5V317.8H1595V317.9H1594.5V319.1H1594V318.9H1593.5V317.8H1593V317.8H1592.5V318.0H1592V319.1H1591.5V318.8H1591V317.8H1590.5V317.8H1590V318.2H1589.5V319.1H1589V318.7H1588.5V317.8H1588V317.8H1587.5V318.3H1587V319.1H1586.5V318.5H1586V317.8H1585.5V317.8H1585V318.5H1584.5V319.1H1584V318.4H1583.5V317.8H1583V317.8H1582.5V318.6H1582V319.1H1581.5V318.2H1581V317.8H1580.5V317.8H1580V318.8H1579.5V319.1H1579V318.1H1578.5V317.8H1578V317.8H1577.5V318.9H1577V319.2H1576.5V318.0H1576V317.8H1575.5V317.8H1575V319.1H1574.5V319.2H1574V317.8H1573.5V317.8H1573V317.8H1572.5V319.3H1572V319.2H1571.5V317.8H1571V317.8H1570.5V318.0H1570V319.3H1569.5V319.2H1569V317.8H1568.5V317.8H1568V318.2H1567.5V319.4H1567V319.1H1566.5V317.8H1566V317.8H1565.5V318.4H1565V319.5H1564.5V319.0H1564V317.8H1563.5V317.8H1563V318.7H1562.5V319.7H1562V319.0H1561.5V317.8H1561V317.8H1560.5V319.1H1560V320.0H1559.5V319.0H1559V317.8H1558.5V317.8H1558V319.4H1557.5V320.2H1557V318.9H1556.5V317.8H1556V317.8H1555.5V320.0H1555V320.6H1554.5V318.9H1554V317.8H1553.5V317.8H1553V320.6H1552.5V321.1H1552V318.9H1551.5V317.9H1551V318.2H1550.5V321.3H1550V321.6H1549.5V318.8H1549V318.0H1548.5V318.7H1548V322.1H1547.5V322.1H1547V318.7H1546.5V318.1H1546V319.4H1545.5V323.0H1545V322.8H1544.5V318.6H1544V318.4H1543.5V320.5H1543V324.5H1542.5V323.8H1542V318.6H1541.5V318.7H1541V321.8H1540.5V325.6H1540V322.4H1539.5V323.2H1539V326.0H1538.5V326.0H1538V326.0H1537.5V322.1H1537V323.2H1536.5V324.9H1536V328.8H1535.5V328.8H1535V328.8H1534.5V324.4H1534V325.2H1533.5V327.9H1533V333.5H1532.5V333.5H1532V333.5H1531.5V326.9H1531V332.7H1530.5V332.9H1530V350.1H1529.5V350.1H1529V350.1H1528.5V341.8H1528V345.5H1527.5V349.7H1527V369.1H1526.5V369.1H1526V369.1H1525.5V353.3H1525V360.5H1524.5V363.5H1524V382.7H1523.5V382.7H1523V382.7H1522.5V352.9H1522V348.1H1521.5V348.1H1521V352.9H1520.5V366.8H1520V385.8H1519.5V385.8H1519V385.8H1518.5V359.8H1518V357.4H1517.5V369.6H1517V372.2H1516.5V402.5H1516V402.5H1515.5V402.5H1515V367.9H1514.5V368.1H1514V374.4H1513.5V387.8H1513V387.8H1512.5V387.8H1512V363.0H1511.5V364.0H1511V368.7H1510.5V382.1H1510V382.1H1509.5V382.1H1509V349.4H1508.5V354.1H1508V362.5H1507.5V384.8H1507V384.8H1506.5V384.8H1506V353.6H1505.5V349.5H1505V356.7H1504.5V358.9H1504V377.3H1503.5V377.3H1503V377.3H1502.5V349.6H1502V352.3H1501.5V359.0H1501V381.4H1500.5V381.4H1500V381.4H1499.5V361.4H1499V359.6H1498.5V364.9H1498V369.8H1497.5V391.8H1497V391.8H1496.5V391.8H1496V357.6H1495.5V355.9H1495V363.2H1494.5V384.9H1494V384.9H1493.5V384.9H1493V344.8H1492.5V348.8H1492V355.3H1491.5V376.6H1491V376.6H1490.5V376.6H1490V350.7H1489.5V351.2H1489V356.9H1488.5V368.5H1488V368.5H1487.5V368.5H1487V342.4H1486.5V342.0H1486V344.8H1485.5V346.3H1485V354.3H1484.5V354.3H1484V354.3H1483.5V333.9H1483V332.9H1482.5V336.2H1482V344.4H1481.5V344.4H1481V344.4H1480.5V330.5H1480V329.9H1479.5V330.1H1479V336.7H1478.5V336.7H1478V336.7H1477.5V324.6H1477V324.7H1476.5V324.9H1476V327.6H1475.5V327.6H1475V318.9H1474.5V317.8H1474Z"/>
<path fill="#000000" opacity="0.55" d="M1616,316.2H1617V316.1H1617.5V316.2H1619.5V315.8H1620V316.1H1620.5V316.2H1621.5V316.0H1622V315.6H1622.5V316.0H1623V316.2H1624V315.8H1624.5V315.3H1625V316.0H1625.5V316.2H1626.5V315.4H1627V315.1H1627.5V316.0H1628V316.2H1629V312.9H1629.5V310.5H1630V282.1H1631.5V301.8H1633.5V305.2H1634V306.8H1634.5V308.7H1635V314.7H1635.5V306.8H1636V295.6H1638.5V303.7H1639V305.5H1641V304.7H1641.5V303.9H1642V286.7H1644V281.1H1644.5V274.2H1645V237.4H1647.5V234.9H1648V229.7H1648.5V196.8H1651V196.0H1651.5V152.8H1654V161.3H1654.5V124.2H1657V156.9H1657.5V104.7H1660V145.3H1660.5V145.1H1661V74.8H1663.5V137.7H1664V72.5H1666.5V82.5H1669V173.5H1669.5V57.3H1672V190.3H1672.5V65.6H1675V65.9H1677.5V207.6H1678V61.4H1680.5V190.7H1681V65.7H1683.5V191.3H1684V67.6H1686.5V206.0H1687V205.5H1687.5V63.8H1690V208.6H1690.5V64.1H1693V203.8H1693.5V65.4H1696V190.1H1696.5V62.6H1699V183.3H1699.5V71.7H1702V167.8H1702.5V82.5H1705V160.6H1705.5V82.7H1708V73.7H1710.5V175.4H1711V77.4H1713.5V181.9H1714V76.2H1716.5V180.9H1717V75.2H1719.5V154.4H1720V74.0H1722.5V160.1H1723V88.9H1725.5V170.3H1726V78.2H1728.5V75.0H1731V156.9H1731.5V87.9H1734V168.3H1734.5V86.1H1737V150.1H1737.5V91.8H1740V185.0H1740.5V92.0H1743V176.1H1743.5V84.0H1746V189.8H1746.5V190.1H1747V84.0H1749.5V179.1H1750V83.3H1752.5V191.2H1753V94.4H1755.5V210.7H1756V95.5H1758.5V212.4H1759V96.3H1761.5V207.2H1762V128.4H1764.5V203.0H1765V124.5H1767.5V188.3H1768V111.5H1770.5V196.2H1771V196.3H1771.5V126.4H1774V171.3H1774.5V130.5H1777V194.9H1777.5V195.8H1778V152.1H1780.5V208.9H1781V179.5H1783.5V213.9H1784V214.8H1784.5V201.4H1787V207.3H1787.5V213.2H1788V222.6H1788.5V231.4H1790V260.9H1790.5V275.2H1791V289.9H1791.5V304.5H1792V316.2H1793V317.8H1792.5V317.8H1792V319.6H1791.5V330.8H1791V341.6H1790.5V358.2H1790V358.2H1789.5V358.2H1789V358.2H1788.5V358.2H1788V358.2H1787.5V373.7H1787V373.7H1786.5V373.7H1786V373.7H1785.5V373.7H1785V372.0H1784.5V387.9H1784V387.9H1783.5V387.9H1783V387.9H1782.5V387.9H1782V382.8H1781.5V394.2H1781V394.2H1780.5V394.2H1780V394.2H1779.5V394.2H1779V375.6H1778.5V378.9H1778V393.6H1777.5V393.6H1777V393.6H1776.5V393.6H1776V393.6H1775.5V391.1H1775V400.5H1774.5V400.5H1774V400.5H1773.5V400.5H1773V400.5H1772.5V406.7H1772V424.2H1771.5V424.2H1771V424.2H1770.5V424.2H1770V424.2H1769.5V398.5H1769V438.2H1768.5V438.2H1768V438.2H1767.5V438.2H1767V438.2H1766.5V413.0H1766V430.4H1765.5V430.4H1765V430.4H1764.5V430.4H1764V430.4H1763.5V414.2H1763V440.7H1762.5V440.7H1762V440.7H1761.5V440.7H1761V440.7H1760.5V391.9H1760V409.7H1759.5V445.2H1759V445.2H1758.5V445.2H1758V445.2H1757.5V445.2H1757V422.4H1756.5V459.0H1756V459.0H1755.5V459.0H1755V459.0H1754.5V459.0H1754V425.4H1753.5V471.1H1753V471.1H1752.5V471.1H1752V471.1H1751.5V471.1H1751V392.1H1750.5V409.9H1750V460.8H1749.5V460.8H1749V460.8H1748.5V460.8H1748V460.8H1747.5V424.1H1747V475.9H1746.5V475.9H1746V475.9H1745.5V475.9H1745V475.9H1744.5V440.1H1744V454.5H1743.5V487.5H1743V487.5H1742.5V487.5H1742V487.5H1741.5V487.5H1741V413.4H1740.5V476.5H1740V476.5H1739.5V476.5H1739V476.5H1738.5V476.5H1738V446.5H1737.5V477.4H1737V477.4H1736.5V477.4H1736V477.4H1735.5V477.4H1735V480.8H1734.5V480.8H1734V480.8H1733.5V480.8H1733V480.8H1732.5V433.8H1732V489.9H1731.5V489.9H1731V489.9H1730.5V489.9H1730V489.9H1729.5V442.6H1729V496.5H1728.5V496.5H1728V496.5H1727.5V496.5H1727V496.5H1726.5V452.0H1726V494.3H1725.5V494.3H1725V494.3H1724.5V494.3H1724V494.3H1723.5V434.2H1723V501.9H1722.5V501.9H1722V501.9H1721.5V501.9H1721V501.9H1720.5V453.1H1720V484.5H1719.5V484.5H1719V484.5H1718.5V484.5H1718V484.5H1717.5V428.6H1717V437.4H1716.5V473.2H1716V473.2H1715.5V473.2H1715V473.2H1714.5V473.2H1714V413.5H1713.5V423.9H1713V475.6H1712.5V475.6H1712V475.6H1711.5V475.6H1711V475.6H1710.5V440.8H1710V464.7H1709.5V464.7H1709V464.7H1708.5V464.7H1708V464.7H1707.5V405.3H1707V417.4H1706.5V462.9H1706V462.9H1705.5V462.9H1705V462.9H1704.5V462.9H1704V460.8H1703.5V460.8H1703V460.8H1702.5V460.8H1702V460.8H1701.5V469.9H1701V469.9H1700.5V469.9H1700V469.9H1699.5V469.9H1699V462.9H1698.5V462.9H1698V462.9H1697.5V462.9H1697V473.2H1696.5V473.2H1696V473.2H1695.5V473.2H1695V473.2H1694.5V402.5H1694V427.8H1693.5V466.3H1693V466.3H1692.5V466.3H1692V466.3H1691.5V466.3H1691V398.8H1690.5V407.3H1690V463.6H1689.5V463.6H1689V463.6H1688.5V463.6H1688V463.6H1687.5V426.7H1687V464.9H1686.5V464.9H1686V464.9H1685.5V464.9H1685V464.9H1684.5V429.8H1684V460.5H1683.5V460.5H1683V460.5H1682.5V460.5H1682V460.5H1681.5V427.0H1681V469.3H1680.5V469.3H1680V469.3H1679.5V469.3H1679V469.3H1678.5V464.3H1678V464.3H1677.5V464.3H1677V464.3H1676.5V464.3H1676V425.9H1675.5V458.8H1675V458.8H1674.5V458.8H1674V458.8H1673.5V458.8H1673V428.2H1672.5V453.6H1672V453.6H1671.5V453.6H1671V453.6H1670.5V453.6H1670V417.5H1669.5V454.7H1669V454.7H1668.5V454.7H1668V454.7H1667.5V454.7H1667V441.3H1666.5V441.3H1666V441.3H1665.5V441.3H1665V441.3H1664.5V409.9H1664V422.5H1663.5V422.5H1663V422.5H1662.5V422.5H1662V422.5H1661.5V407.9H1661V414.6H1660.5V414.6H1660V414.6H1659.5V414.6H1659V414.6H1658.5V395.4H1658V410.8H1657.5V410.8H1657V410.8H1656.5V410.8H1656V410.8H1655.5V412.9H1655V412.9H1654.5V412.9H1654V412.9H1653.5V412.9H1653V391.3H1652.5V430.0H1652V430.0H1651.5V430.0H1651V430.0H1650.5V430.0H1650V375.6H1649.5V391.8H1649V391.8H1648.5V391.8H1648V391.8H1647.5V391.8H1647V370.0H1646.5V370.0H1646V370.0H1645.5V370.0H1645V370.0H1644.5V342.0H1644V344.7H1643.5V344.7H1643V344.7H1642.5V344.7H1642V344.7H1641.5V326.3H1641V326.9H1640.5V326.9H1640V326.9H1639.5V326.9H1639V326.9H1638.5V333.4H1638V333.4H1637.5V333.4H1637V333.4H1636.5V333.4H1636V325.4H1635.5V321.7H1635V318.3H1634.5V318.4H1634V322.2H1633.5V324.8H1633V322.5H1632.5V318.6H1632V318.6H1631.5V340.8H1631V340.8H1630.5V340.8H1630V317.8H1629.5V317.8H1629V318.9H1628.5V319.0H1628V318.0H1627.5V317.8H1627V317.8H1626.5V318.6H1626V318.8H1625.5V317.8H1625V317.8H1624.5V317.8H1624V318.5H1623.5V318.5H1623V317.8H1622.5V317.8H1622V317.8H1621.5V318.3H1621V318.2H1620.5V317.8H1620V317.8H1619.5V317.8H1619V318.1H1618.5V317.9H1618V317.8H1617.5V317.8H1617V317.8H1616.5V317.8H1616Z"/>
<path fill="#000000" d="M1616,316.2H1617V316.1H1617.5V316.2H1619.5V315.8H1620V316.1H1620.5V316.2H1621.5V316.0H1622V315.6H1622.5V316.0H1623V316.2H1624V315.8H1624.5V315.3H1625V316.0H1625.5V316.2H1626.5V315.4H1627V315.1H1627.5V316.0H1628V316.2H1629V312.9H1629.5V310.5H1630V282.1H1631V303.0H1631.5V301.8H1633V303.5H1633.5V305.2H1634V306.8H1634.5V308.7H1635V314.7H1635.5V306.8H1636V303.9H1636.5V295.6H1638V300.0H1638.5V303.7H1639V307.5H1639.5V305.5H1641V304.7H1641.5V303.9H1642V300.9H1642.5V286.7H1644V281.1H1644.5V274.2H1645V267.4H1645.5V237.4H1647V241.0H1647.5V234.9H1648V229.7H1648.5V224.5H1649V196.8H1650.5V201.3H1651V196.0H1651.5V190.9H1652V152.8H1653.5V165.8H1654V161.3H1654.5V156.9H1655V124.2H1656.5V158.7H1657V156.9H1657.5V155.1H1658V104.7H1659.5V145.9H1660V145.3H1660.5V145.1H1661V144.8H1661.5V74.8H1663V138.0H1663.5V137.7H1664V140.0H1664.5V72.5H1666V158.5H1666.5V162.7H1667V82.5H1668.5V172.4H1669V173.5H1669.5V174.6H1670V57.3H1671.5V189.1H1672V190.3H1672.5V192.8H1673V65.6H1674.5V197.4H1675V200.0H1675.5V65.9H1677V208.6H1677.5V207.6H1678V206.6H1678.5V61.4H1680V191.1H1680.5V190.7H1681.5V65.7H1683V191.3H1684.5V67.6H1686V206.5H1686.5V206.0H1687V205.5H1687.5V205.1H1688V63.8H1689.5V209.1H1690V208.6H1690.5V208.2H1691V64.1H1692.5V204.7H1693V203.8H1693.5V202.9H1694V65.4H1695.5V191.1H1696V190.1H1696.5V189.1H1697V62.6H1698.5V184.7H1699V183.3H1699.5V181.8H1700V71.7H1701.5V167.8H1703V82.5H1704.5V160.4H1705V160.6H1705.5V161.1H1706V82.7H1707.5V169.5H1708V170.0H1708.5V73.7H1710V176.1H1710.5V175.4H1711V174.6H1711.5V77.4H1713V182.3H1713.5V181.9H1714V181.4H1714.5V76.2H1716V181.4H1716.5V180.9H1717V180.5H1717.5V75.2H1719V155.0H1719.5V154.4H1720V153.9H1720.5V74.0H1722V159.8H1722.5V160.1H1723V160.3H1723.5V88.9H1725V170.2H1725.5V170.3H1726V170.1H1726.5V78.2H1728V153.0H1728.5V152.7H1729V75.0H1730.5V157.9H1731V156.9H1731.5V155.9H1732V87.9H1733.5V167.5H1734V168.3H1734.5V169.2H1735V86.1H1736.5V149.0H1737V150.1H1737.5V151.1H1738V91.8H1739.5V183.3H1740V185.0H1740.5V186.7H1741V92.0H1742.5V174.9H1743V176.1H1743.5V177.1H1744V84.0H1745.5V189.0H1746V189.8H1746.5V190.1H1747V190.3H1747.5V84.0H1749V178.8H1749.5V179.1H1750V179.4H1750.5V83.3H1752V190.2H1752.5V191.2H1753V192.3H1753.5V94.4H1755V209.8H1755.5V210.7H1756V211.6H1756.5V95.5H1758V211.7H1758.5V212.4H1759V212.8H1759.5V96.3H1761V206.7H1761.5V207.2H1762V207.7H1762.5V128.4H1764V205.6H1764.5V203.0H1765V200.3H1765.5V124.5H1767V188.8H1767.5V188.3H1768V187.8H1768.5V111.5H1770V196.6H1770.5V196.2H1771V196.3H1771.5V196.6H1772V126.4H1773.5V171.1H1774V171.3H1774.5V171.6H1775V130.5H1776.5V193.9H1777V194.9H1777.5V195.8H1778V196.8H1778.5V152.1H1780V208.0H1780.5V208.9H1781V209.9H1781.5V179.5H1783V213.0H1783.5V213.9H1784V214.8H1784.5V215.7H1785V201.4H1786.5V204.4H1787V207.3H1787.5V213.2H1788V222.6H1788.5V231.4H1789.5V251.7H1790V260.9H1790.5V275.2H1791V289.9H1791.5V304.5H1792V316.2H1793V317.8H1792.5V317.8H1792V319.6H1791.5V325.5H1791V334.6H1790.5V344.2H1790V358.2H1789.5V358.2H1789V358.2H1788.5V344.0H1788V350.7H1787.5V358.8H1787V373.7H1786.5V373.7H1786V373.7H1785.5V361.9H1785V367.2H1784.5V373.0H1784V387.9H1783.5V387.9H1783V387.9H1782.5V375.7H1782V378.7H1781.5V383.3H1781V394.2H1780.5V394.2H1780V394.2H1779.5V372.1H1779V370.0H1778.5V376.1H1778V379.3H1777.5V393.6H1777V393.6H1776.5V393.6H1776V382.3H1775.5V387.5H1775V391.5H1774.5V400.5H1774V400.5H1773.5V400.5H1773V392.0H1772.5V399.2H1772V407.1H1771.5V424.2H1771V424.2H1770.5V424.2H1770V384.1H1769.5V390.6H1769V398.7H1768.5V438.2H1768V438.2H1767.5V438.2H1767V404.5H1766.5V405.8H1766V413.3H1765.5V430.4H1765V430.4H1764.5V430.4H1764V401.0H1763.5V407.8H1763V414.5H1762.5V440.7H1762V440.7H1761.5V440.7H1761V386.8H1760.5V380.4H1760V392.2H1759.5V409.9H1759V445.2H1758.5V445.2H1758V445.2H1757.5V408.5H1757V412.4H1756.5V422.7H1756V459.0H1755.5V459.0H1755V459.0H1754.5V388.1H1754V402.1H1753.5V425.6H1753V471.1H1752.5V471.1H1752V471.1H1751.5V385.2H1751V378.2H1750.5V392.3H1750V410.1H1749.5V460.8H1749V460.8H1748.5V460.8H1748V403.1H1747.5V410.1H1747V424.4H1746.5V475.9H1746V475.9H1745.5V475.9H1745V425.3H1744.5V423.6H1744V440.5H1743.5V454.8H1743V487.5H1742.5V487.5H1742V487.5H1741.5V389.7H1741V396.6H1740.5V413.7H1740V476.5H1739.5V476.5H1739V476.5H1738.5V434.1H1738V439.4H1737.5V446.7H1737V477.4H1736.5V477.4H1736V477.4H1735.5V423.0H1735V447.0H1734.5V480.8H1734V480.8H1733.5V480.8H1733V400.5H1732.5V416.0H1732V434.0H1731.5V489.9H1731V489.9H1730.5V489.9H1730V406.8H1729.5V413.7H1729V442.7H1728.5V496.5H1728V496.5H1727.5V496.5H1727V440.3H1726.5V440.5H1726V452.2H1725.5V494.3H1725V494.3H1724.5V494.3H1724V415.7H1723.5V411.0H1723V434.4H1722.5V501.9H1722V501.9H1721.5V501.9H1721V437.9H1720.5V435.9H1720V453.0H1719.5V484.5H1719V484.5H1718.5V484.5H1718V427.2H1717.5V418.1H1717V428.5H1716.5V437.3H1716V473.2H1715.5V473.2H1715V473.2H1714.5V410.5H1714V400.4H1713.5V413.4H1713V423.8H1712.5V475.6H1712V475.6H1711.5V475.6H1711V434.4H1710.5V431.9H1710V440.7H1709.5V464.7H1709V464.7H1708.5V464.7H1708V406.8H1707.5V397.3H1707V405.2H1706.5V417.3H1706V462.9H1705.5V462.9H1705V462.9H1704.5V406.9H1704V424.6H1703.5V460.8H1703V460.8H1702.5V460.8H1702V411.4H1701.5V428.0H1701V469.9H1700.5V469.9H1700V469.9H1699.5V406.2H1699V415.6H1698.5V462.9H1698V462.9H1697.5V462.9H1697V438.0H1696.5V473.2H1696V473.2H1695.5V473.2H1695V395.6H1694.5V391.7H1694V402.4H1693.5V427.7H1693V466.3H1692.5V466.3H1692V466.3H1691.5V384.9H1691V382.6H1690.5V398.6H1690V407.2H1689.5V463.6H1689V463.6H1688.5V463.6H1688V410.8H1687.5V407.7H1687V426.6H1686.5V464.9H1686V464.9H1685.5V464.9H1685V403.5H1684.5V412.7H1684V429.7H1683.5V460.5H1683V460.5H1682.5V460.5H1682V407.7H1681.5V407.9H1681V426.8H1680.5V469.3H1680V469.3H1679.5V469.3H1679V411.7H1678.5V429.3H1678V464.3H1677.5V464.3H1677V464.3H1676.5V409.8H1676V416.1H1675.5V425.8H1675V458.8H1674.5V458.8H1674V458.8H1673.5V411.7H1673V419.6H1672.5V428.1H1672V453.6H1671.5V453.6H1671V453.6H1670.5V393.5H1670V401.3H1669.5V417.4H1669V454.7H1668.5V454.7H1668V454.7H1667.5V394.0H1667V406.3H1666.5V441.3H1666V441.3H1665.5V441.3H1665V407.1H1664.5V403.7H1664V409.7H1663.5V422.5H1663V422.5H1662.5V422.5H1662V405.5H1661.5V405.0H1661V407.7H1660.5V414.6H1660V414.6H1659.5V414.6H1659V389.7H1658.5V391.2H1658V395.2H1657.5V410.8H1657V410.8H1656.5V410.8H1656V396.8H1655.5V398.1H1655V412.9H1654.5V412.9H1654V412.9H1653.5V378.8H1653V383.7H1652.5V391.1H1652V430.0H1651.5V430.0H1651V430.0H1650.5V371.4H1650V372.9H1649.5V374.3H1649V391.8H1648.5V391.8H1648V391.8H1647.5V362.4H1647V363.4H1646.5V370.0H1646V370.0H1645.5V370.0H1645V342.4H1644.5V341.0H1644V340.6H1643.5V344.7H1643V344.7H1642.5V344.7H1642V328.4H1641.5V326.0H1641V325.1H1640.5V326.9H1640V326.9H1639.5V326.9H1639V322.3H1638.5V325.0H1638V333.4H1637.5V333.4H1637V333.4H1636.5V321.0H1636V325.4H1635.5V321.7H1635V318.3H1634.5V318.4H1634V322.2H1633.5V324.8H1633V322.5H1632.5V318.6H1632V318.6H1631.5V329.3H1631V340.8H1630.5V340.8H1630V317.8H1629.5V317.8H1629V318.9H1628.5V319.0H1628V318.0H1627.5V317.8H1627V317.8H1626.5V318.6H1626V318.8H1625.5V317.8H1625V317.8H1624.5V317.8H1624V318.5H1623.5V318.5H1623V317.8H1622.5V317.8H1622V317.8H1621.5V318.3H1621V318.2H1620.5V317.8H1620V317.8H1619.5V317.8H1619V318.1H1618.5V317.9H1618V317.8H1617.5V317.8H1617V317.8H1616.5V317.8H1616Z"/>
<path fill="#008000" opacity="0.55" d="M1802.5,316.2H1803V195.8H1804.5V256.2H1805V255.1H1805.5V212.4H1808V255.2H1808.5V254.3H1809V253.3H1809.5V225.4H1812V245.5H1812.5V244.8H1813V244.2H1813.5V230.4H1816V236.1H1816.5V235.4H1817V233.6H1819.5V233.4H1820V232.8H1820.5V232.2H1821V229.9H1823.5V239.6H1824V239.8H1824.5V232.6H1827V236.3H1827.5V238.0H1828V239.0H1830.5V248.4H1831V250.1H1831.5V237.1H1834V261.7H1834.5V262.4H1835V233.3H1837.5V260.2H1838V260.9H1838.5V230.2H1841V273.3H1841.5V273.9H1842V200.3H1844.5V261.5H1845V260.3H1845.5V229.2H1848V256.3H1848.5V255.1H1849V214.7H1851.5V255.5H1852V233.9H1854.5V264.7H1855V265.9H1855.5V230.4H1858V272.0H1858.5V272.4H1859V222.1H1861.5V275.7H1862V275.3H1862.5V211.0H1865V273.9H1865.5V273.5H1866V210.6H1868.5V266.2H1869V266.2H1869.5V210.4H1872V267.6H1872.5V267.7H1873V209.7H1875.5V272.6H1876V272.7H1876.5V209.8H1879V268.6H1879.5V211.2H1882V267.1H1882.5V267.0H1883V219.2H1885.5V269.9H1886V269.8H1886.5V207.3H1889V266.0H1889.5V265.9H1890V214.1H1892.5V271.5H1893V271.4H1893.5V217.8H1896V267.8H1896.5V267.7H1897V222.5H1899.5V265.9H1900V266.3H1900.5V224.1H1903V272.6H1903.5V273.0H1904V225.9H1906.5V279.1H1907V279.4H1907.5V227.5H1910V276.5H1910.5V276.9H1911V233.2H1913.5V283.1H1914V282.9H1914.5V235.5H1917V278.9H1917.5V278.6H1918V236.5H1920.5V279.0H1921V278.8H1921.5V238.9H1924V273.7H1924.5V273.4H1925V243.0H1927.5V273.6H1928V273.3H1928.5V248.1H1931V272.5H1931.5V272.2H1932V240.2H1934.5V273.1H1935V252.1H1937.5V271.4H1938V271.2H1938.5V238.0H1941V266.8H1942V237.1H1944.5V269.9H1945.5V239.1H1948V262.1H1948.5V236.3H1951V263.7H1952V231.8H1954.5V262.6H1955V262.3H1955.5V230.9H1958V268.5H1958.5V231.5H1961V263.4H1961.5V263.2H1962V236.3H1964.5V267.5H1965V267.3H1965.5V227.8H1968V262.2H1968.5V262.3H1969V238.2H1971.5V260.9H1972V261.0H1972.5V239.9H1975V266.9H1975.5V267.0H1976V237.7H1978.5V264.5H1979V264.6H1979.5V236.2H1982V261.3H1982.5V261.4H1983V237.6H1985.5V263.0H1986.5V238.9H1989V258.9H1990V237.6H1992.5V260.1H1993.5V239.9H1996V265.5H1996.5V266.2H1997V247.7H1999.5V272.1H2000V272.7H2000.5V254.5H2003V277.9H2003.5V260.5H2006V281.0H2006.5V281.8H2007V255.2H2009.5V283.1H2010V281.9H2010.5V246.3H2013V275.2H2013.5V248.2H2016V264.7H2016.5V246.7H2019V258.5H2019.5V234.0H2022V258.0H2022.5V257.9H2023V239.3H2025.5V260.2H2026V260.0H2026.5V231.9H2029V241.5H2031.5V267.2H2032V236.9H2034.5V272.9H2035V275.4H2035.5V251.5H2038V288.8H2038.5V291.5H2039V262.9H2041.5V297.6H2042V298.1H2042.5V298.6H2043V275.5H2045.5V300.5H2046V301.0H2046.5V286.4H2049V303.8H2049.5V304.2H2050V289.1H2052.5V307.1H2053V307.4H2053.5V291.4H2056V308.6H2056.5V309.0H2057V300.8H2059.5V310.9H2060V311.0H2060.5V311.1H2061V305.9H2063.5V311.5H2064V311.6H2064.5V307.7H2067V312.6H2067.5V312.6H2068V308.4H2068.5V312.6H2069V315.3H2069.5V315.3H2070V309.9H2070.5V309.2H2071V313.5H2071.5V315.5H2072V315.0H2072.5V310.3H2073V310.2H2073.5V314.5H2074V315.7H2074.5V314.9H2075V311.0H2075.5V311.3H2076V315.2H2076.5V315.9H2077V314.8H2077.5V312.0H2078V312.5H2078.5V315.9H2079V316.1H2079.5V315.0H2080V313.0H2080.5V313.7H2081V316.2H2082V315.2H2082.5V314.0H2083V314.7H2083.5V316.2H2084.5V315.2H2085V314.1H2085.5V314.9H2086V316.2H2087V315.0H2087.5V313.7H2088V314.5H2088.5V316.2H2089V316.1H2089.5V313.0H2090V310.3H2090.5V312.0H2091V306.7H2092V310.9H2092.5V311.3H2093V314.8H2093.5V316.2H2095.5V317.8H2095V317.8H2094.5V318.9H2094V321.9H2093.5V319.4H2093V317.8H2092.5V317.8H2092V320.2H2091.5V320.3H2091V318.5H2090.5V317.8H2090V317.9H2089.5V320.1H2089V320.3H2088.5V318.2H2088V317.8H2087.5V318.1H2087V320.3H2086.5V320.2H2086V318.0H2085.5V317.8H2085V318.4H2084.5V320.3H2084V320.0H2083.5V317.8H2083V317.8H2082.5V318.7H2082V320.6H2081.5V320.2H2081V317.8H2080.5V317.8H2080V319.2H2079.5V321.1H2079V320.3H2078.5V317.9H2078V317.9H2077.5V319.8H2077V321.6H2076.5V320.4H2076V318.0H2075.5V318.0H2075V320.5H2074.5V322.1H2074V320.5H2073.5V318.1H2073V318.1H2072.5V321.4H2072V322.9H2071.5V320.6H2071V318.2H2070.5V318.3H2070V322.6H2069.5V323.9H2069V320.7H2068.5V318.5H2068V318.6H2067.5V324.1H2067V325.2H2066.5V320.8H2066V325.5H2065.5V326.1H2065V326.3H2064.5V327.6H2064V327.6H2063.5V327.8H2063V328.0H2062.5V328.4H2062V329.3H2061.5V329.8H2061V330.6H2060.5V330.6H2060V330.6H2059.5V330.6H2059V330.6H2058.5V331.4H2058V332.1H2057.5V334.6H2057V334.6H2056.5V334.6H2056V334.6H2055.5V334.6H2055V335.2H2054.5V336.6H2054V340.7H2053.5V340.7H2053V340.7H2052.5V340.7H2052V340.7H2051.5V336.9H2051V337.8H2050.5V345.4H2050V345.4H2049.5V345.4H2049V345.4H2048.5V345.4H2048V339.4H2047.5V340.7H2047V347.8H2046.5V347.8H2046V348.5H2045.5V349.5H2045V350.4H2044.5V351.6H2044V352.9H2043.5V354.2H2043V354.2H2042.5V355.0H2042V355.8H2041.5V356.6H2041V358.3H2040.5V359.8H2040V362.1H2039.5V362.1H2039V362.1H2038.5V362.4H2038V363.3H2037.5V366.9H2037V369.0H2036.5V377.5H2036V377.5H2035.5V377.5H2035V377.5H2034.5V377.5H2034V362.8H2033.5V369.5H2033V393.0H2032.5V393.0H2032V393.0H2031.5V393.0H2031V393.0H2030.5V378.9H2030V382.8H2029.5V397.8H2029V397.8H2028.5V397.8H2028V397.8H2027.5V397.8H2027V369.3H2026.5V368.9H2026V395.0H2025.5V395.0H2025V395.0H2024.5V395.0H2024V395.0H2023.5V369.8H2023V372.4H2022.5V391.6H2022V391.6H2021.5V391.6H2021V391.6H2020.5V391.6H2020V366.6H2019.5V369.4H2019V383.2H2018.5V383.2H2018V383.2H2017.5V383.2H2017V383.2H2016.5V349.6H2016V354.7H2015.5V378.3H2015V378.3H2014.5V378.3H2014V378.3H2013.5V378.3H2013V355.4H2012.5V358.8H2012V374.9H2011.5V374.9H2011V374.9H2010.5V374.9H2010V374.9H2009.5V357.7H2009V359.4H2008.5V372.6H2008V372.6H2007.5V372.6H2007V372.6H2006.5V372.6H2006V355.1H2005.5V357.7H2005V370.3H2004.5V370.3H2004V370.3H2003.5V370.3H2003V370.3H2002.5V354.0H2002V355.1H2001.5V364.4H2001V364.4H2000.5V364.4H2000V364.4H1999.5V364.4H1999V354.4H1998.5V357.4H1998V367.3H1997.5V367.3H1997V367.3H1996.5V367.3H1996V367.3H1995.5V363.9H1995V366.8H1994.5V373.4H1994V373.4H1993.5V373.4H1993V373.4H1992.5V373.4H1992V353.2H1991.5V356.8H1991V377.8H1990.5V377.8H1990V377.8H1989.5V377.8H1989V377.8H1988.5V355.9H1988V360.4H1987.5V382.1H1987V382.1H1986.5V382.1H1986V382.1H1985.5V382.1H1985V371.9H1984.5V373.4H1984V385.7H1983.5V385.7H1983V385.7H1982.5V385.7H1982V385.7H1981.5V364.0H1981V366.5H1980.5V387.9H1980V387.9H1979.5V387.9H1979V387.9H1978.5V387.9H1978V377.5H1977.5V380.0H1977V390.0H1976.5V390.0H1976V390.0H1975.5V390.0H1975V390.0H1974.5V377.8H1974V380.8H1973.5V393.0H1973V393.0H1972.5V393.0H1972V393.0H1971.5V393.0H1971V363.8H1970.5V368.1H1970V395.4H1969.5V395.4H1969V395.4H1968.5V395.4H1968V395.4H1967.5V363.0H1967V368.9H1966.5V396.8H1966V396.8H1965.5V396.8H1965V396.8H1964.5V396.8H1964V373.9H1963.5V376.6H1963V395.5H1962.5V395.5H1962V395.5H1961.5V395.5H1961V395.5H1960.5V366.0H1960V370.8H1959.5V391.5H1959V391.5H1958.5V391.5H1958V391.5H1957.5V391.5H1957V369.6H1956.5V371.7H1956V387.9H1955.5V387.9H1955V387.9H1954.5V387.9H1954V387.9H1953.5V368.2H1953V371.1H1952.5V388.9H1952V388.9H1951.5V388.9H1951V388.9H1950.5V388.9H1950V358.5H1949.5V363.2H1949V386.7H1948.5V386.7H1948V386.7H1947.5V386.7H1947V386.7H1946.5V353.8H1946V357.9H1945.5V385.0H1945V385.0H1944.5V385.0H1944V385.0H1943.5V385.0H1943V361.5H1942.5V367.3H1942V385.8H1941.5V385.8H1941V385.8H1940.5V385.8H1940V385.8H1939.5V359.9H1939V360.8H1938.5V384.2H1938V384.2H1937.5V384.2H1937V384.2H1936.5V384.2H1936V357.3H1935.5V359.4H1935V383.4H1934.5V383.4H1934V383.4H1933.5V383.4H1933V383.4H1932.5V355.5H1932V356.4H1931.5V384.3H1931V384.3H1930.5V384.3H1930V384.3H1929.5V384.3H1929V362.9H1928.5V369.2H1928V384.2H1927.5V384.2H1927V384.2H1926.5V384.2H1926V384.2H1925.5V356.5H1925V361.7H1924.5V387.0H1924V387.0H1923.5V387.0H1923V387.0H1922.5V387.0H1922V356.6H1921.5V361.5H1921V388.2H1920.5V388.2H1920V388.2H1919.5V388.2H1919V388.2H1918.5V366.0H1918V369.5H1917.5V389.9H1917V389.9H1916.5V389.9H1916V389.9H1915.5V389.9H1915V362.2H1914.5V368.0H1914V393.4H1913.5V393.4H1913V393.4H1912.5V393.4H1912V393.4H1911.5V365.1H1911V371.5H1910.5V395.6H1910V395.6H1909.5V395.6H1909V395.6H1908.5V395.6H1908V366.2H1907.5V370.6H1907V395.2H1906.5V395.2H1906V395.2H1905.5V395.2H1905V395.2H1904.5V358.2H1904V367.3H1903.5V393.2H1903V393.2H1902.5V393.2H1902V393.2H1901.5V393.2H1901V365.5H1900.5V370.9H1900V401.2H1899.5V401.2H1899V401.2H1898.5V401.2H1898V401.2H1897.5V357.6H1897V367.2H1896.5V397.1H1896V397.1H1895.5V397.1H1895V397.1H1894.5V397.1H1894V372.0H1893.5V379.5H1893V399.2H1892.5V399.2H1892V399.2H1891.5V399.2H1891V399.2H1890.5V364.9H1890V368.5H1889.5V396.4H1889V396.4H1888.5V396.4H1888V396.4H1887.5V396.4H1887V377.0H1886.5V380.3H1886V383.1H1885.5V394.8H1885V394.8H1884.5V394.8H1884V394.8H1883.5V394.8H1883V378.1H1882.5V381.1H1882V387.4H1881.5V406.6H1881V406.6H1880.5V406.6H1880V406.6H1879.5V406.6H1879V391.1H1878.5V391.1H1878V391.1H1877.5V391.1H1877V391.1H1876.5V376.9H1876V391.0H1875.5V391.0H1875V391.0H1874.5V391.0H1874V391.0H1873.5V376.0H1873V377.6H1872.5V378.6H1872V388.1H1871.5V388.1H1871V388.1H1870.5V388.1H1870V388.1H1869.5V365.3H1869V369.9H1868.5V385.2H1868V385.2H1867.5V385.2H1867V385.2H1866.5V385.2H1866V379.5H1865.5V380.3H1865V382.5H1864.5V382.5H1864V382.5H1863.5V382.5H1863V382.5H1862.5V357.9H1862V361.3H1861.5V363.7H1861V382.5H1860.5V382.5H1860V382.5H1859.5V382.5H1859V382.5H1858.5V362.6H1858V364.1H1857.5V379.2H1857V379.2H1856.5V379.2H1856V379.2H1855.5V379.2H1855V364.2H1854.5V366.0H1854V369.4H1853.5V388.9H1853V388.9H1852.5V388.9H1852V388.9H1851.5V388.9H1851V374.4H1850.5V385.7H1850V385.7H1849.5V385.7H1849V385.7H1848.5V385.7H1848V376.4H1847.5V383.9H1847V383.9H1846.5V383.9H1846V383.9H1845.5V383.9H1845V380.3H1844.5V399.2H1844V399.2H1843.5V399.2H1843V399.2H1842.5V399.2H1842V358.5H1841.5V362.0H1841V377.1H1840.5V377.1H1840V377.1H1839.5V377.1H1839V377.1H1838.5V356.1H1838V357.7H1837.5V369.4H1837V369.4H1836.5V369.4H1836V369.4H1835.5V369.4H1835V356.2H1834.5V357.5H1834V362.8H1833.5V362.8H1833V362.8H1832.5V362.8H1832V362.8H1831.5V362.1H1831V363.9H1830.5V366.6H1830V366.6H1829.5V367.6H1829V369.1H1828.5V370.6H1828V371.9H1827.5V372.3H1827V374.2H1826.5V374.2H1826V374.2H1825.5V374.2H1825V374.2H1824.5V370.1H1824V371.4H1823.5V378.6H1823V378.6H1822.5V378.6H1822V378.6H1821.5V378.6H1821V361.2H1820.5V372.7H1820V372.7H1819.5V372.7H1819V372.7H1818.5V372.7H1818V356.8H1817.5V374.5H1817V374.5H1816.5V374.5H1816V374.5H1815.5V374.5H1815V358.5H1814.5V370.4H1814V370.4H1813.5V370.4H1813V370.4H1812.5V370.4H1812V351.7H1811.5V357.0H1811V376.6H1810.5V376.6H1810V376.6H1809.5V376.6H1809V376.6H1808.5V365.6H1808V366.3H1807.5V375.2H1807V375.2H1806.5V375.2H1806V375.2H1805.5V375.2H1805V356.0H1804.5V383.6H1804V383.6H1803.5V383.6H1803V317.8H1802.5Z"/>
<path fill="#008000" d="M1802.5,316.2H1803V195.8H1804V257.2H1804.5V256.2H1805V255.1H1805.5V254.1H1806V212.4H1807.5V256.2H1808V255.2H1808.5V254.3H1809V253.3H1809.5V252.4H1810V225.4H1811.5V246.1H1812V245.5H1812.5V244.8H1813V244.2H1813.5V243.5H1814V230.4H1815.5V236.8H1816V236.1H1816.5V235.4H1817V234.7H1817.5V233.6H1819V234.0H1819.5V233.4H1820V232.8H1820.5V232.2H1821V231.6H1821.5V229.9H1823V239.5H1823.5V239.6H1824V239.8H1824.5V239.9H1825V232.6H1826.5V234.6H1827V236.3H1827.5V238.0H1828V239.7H1828.5V239.0H1830V246.7H1830.5V248.4H1831V250.1H1831.5V251.8H1832V237.1H1833.5V261.1H1834V261.7H1834.5V262.4H1835V263.0H1835.5V233.3H1837V259.5H1837.5V260.2H1838V260.9H1838.5V261.7H1839V230.2H1840.5V272.7H1841V273.3H1841.5V273.9H1842V274.5H1842.5V200.3H1844V262.8H1844.5V261.5H1845V260.3H1845.5V259.0H1846V229.2H1847.5V257.5H1848V256.3H1848.5V255.1H1849V253.9H1849.5V214.7H1851V254.2H1851.5V255.5H1852V256.7H1852.5V233.9H1854V263.5H1854.5V264.7H1855V265.9H1855.5V267.1H1856V230.4H1857.5V270.8H1858V272.0H1858.5V272.4H1859V272.0H1859.5V222.1H1861V276.0H1861.5V275.7H1862V275.3H1862.5V274.9H1863V211.0H1864.5V274.2H1865V273.9H1865.5V273.5H1866V273.2H1866.5V210.6H1868V266.1H1868.5V266.2H1869V266.2H1869.5V266.3H1870V210.4H1871.5V267.5H1872V267.6H1872.5V267.7H1873V267.8H1873.5V209.7H1875V272.5H1875.5V272.6H1876V272.7H1876.5V272.7H1877V209.8H1878.5V268.5H1879V268.6H1879.5V268.7H1880V211.2H1881.5V267.2H1882V267.1H1882.5V267.0H1883V266.9H1883.5V219.2H1885V270.0H1885.5V269.9H1886V269.8H1886.5V269.8H1887V207.3H1888.5V266.1H1889V266.0H1889.5V265.9H1890V265.9H1890.5V214.1H1892V271.5H1892.5V271.5H1893V271.4H1893.5V271.3H1894V217.8H1895.5V267.9H1896V267.8H1896.5V267.7H1897V267.7H1897.5V222.5H1899V265.5H1899.5V265.9H1900V266.3H1900.5V266.7H1901V224.1H1902.5V272.3H1903V272.6H1903.5V273.0H1904V273.4H1904.5V225.9H1906V278.7H1906.5V279.1H1907V279.4H1907.5V279.7H1908V227.5H1909.5V276.1H1910V276.5H1910.5V276.9H1911V277.2H1911.5V233.2H1913V283.3H1913.5V283.1H1914V282.9H1914.5V282.7H1915V235.5H1916.5V279.1H1917V278.9H1917.5V278.6H1918V278.4H1918.5V236.5H1920V279.2H1920.5V279.0H1921V278.8H1921.5V278.5H1922V238.9H1923.5V274.0H1924V273.7H1924.5V273.4H1925V273.2H1925.5V243.0H1927V273.8H1927.5V273.6H1928V273.3H1928.5V273.1H1929V248.1H1930.5V272.7H1931V272.5H1931.5V272.2H1932V272.0H1932.5V240.2H1934V273.3H1934.5V273.1H1935V272.9H1935.5V252.1H1937V271.6H1937.5V271.4H1938V271.2H1938.5V270.9H1939V238.0H1940.5V266.8H1942.5V237.1H1944V269.9H1946V239.1H1947.5V262.1H1948V262.1H1948.5V262.2H1949V236.3H1950.5V263.7H1952.5V231.8H1954V262.7H1954.5V262.6H1955V262.3H1955.5V262.1H1956V230.9H1957.5V268.7H1958V268.5H1958.5V268.3H1959V231.5H1960.5V263.6H1961V263.4H1961.5V263.2H1962V263.0H1962.5V236.3H1964V267.7H1964.5V267.5H1965V267.3H1965.5V267.1H1966V227.8H1967.5V262.3H1968V262.2H1968.5V262.3H1969V262.4H1969.5V238.2H1971V260.9H1971.5V260.9H1972V261.0H1972.5V261.1H1973V239.9H1974.5V266.8H1975V266.9H1975.5V267.0H1976V267.0H1976.5V237.7H1978V264.4H1978.5V264.5H1979V264.6H1979.5V264.7H1980V236.2H1981.5V261.2H1982V261.3H1982.5V261.4H1983V261.5H1983.5V237.6H1985V263.0H1987V238.9H1988.5V258.9H1990.5V237.6H1992V260.1H1994V239.9H1995.5V264.9H1996V265.5H1996.5V266.2H1997V266.8H1997.5V247.7H1999V271.5H1999.5V272.1H2000V272.7H2000.5V273.3H2001V254.5H2002.5V277.4H2003V277.9H2003.5V278.5H2004V260.5H2005.5V280.2H2006V281.0H2006.5V281.8H2007V282.7H2007.5V255.2H2009V284.3H2009.5V283.1H2010V281.9H2010.5V280.8H2011V246.3H2012.5V276.4H2013V275.2H2013.5V274.0H2014V248.2H2015.5V266.0H2016V264.7H2016.5V263.5H2017V246.7H2018.5V258.6H2019V258.5H2019.5V258.4H2020V234.0H2021.5V258.2H2022V258.0H2022.5V257.9H2023V257.8H2023.5V239.3H2025V260.3H2025.5V260.2H2026V260.0H2026.5V259.9H2027V231.9H2028.5V261.5H2029V262.3H2029.5V241.5H2031V266.4H2031.5V267.2H2032V268.0H2032.5V236.9H2034V270.5H2034.5V272.9H2035V275.4H2035.5V277.9H2036V251.5H2037.5V286.1H2038V288.8H2038.5V291.5H2039V292.6H2039.5V262.9H2041V297.1H2041.5V297.6H2042V298.1H2042.5V298.6H2043V299.1H2043.5V275.5H2045V299.9H2045.5V300.5H2046V301.0H2046.5V301.5H2047V286.4H2048.5V303.5H2049V303.8H2049.5V304.2H2050V304.6H2050.5V289.1H2052V306.7H2052.5V307.1H2053V307.4H2053.5V307.7H2054V291.4H2055.5V308.3H2056V308.6H2056.5V309.0H2057V309.4H2057.5V300.8H2059V310.7H2059.5V310.9H2060V311.0H2060.5V311.1H2061V311.2H2061.5V305.9H2063V311.4H2063.5V311.5H2064V311.6H2064.5V311.7H2065V307.7H2066.5V312.5H2067V312.6H2067.5V312.6H2068V308.4H2068.5V312.6H2069V315.3H2069.5V315.3H2070V309.9H2070.5V309.2H2071V313.5H2071.5V315.5H2072V315.0H2072.5V310.3H2073V310.2H2073.5V314.5H2074V315.7H2074.5V314.9H2075V311.0H2075.5V311.3H2076V315.2H2076.5V315.9H2077V314.8H2077.5V312.0H2078V312.5H2078.5V315.9H2079V316.1H2079.5V315.0H2080V313.0H2080.5V313.7H2081V316.2H2082V315.2H2082.5V314.0H2083V314.7H2083.5V316.2H2084.5V315.2H2085V314.1H2085.5V314.9H2086V316.2H2087V315.0H2087.5V313.7H2088V314.5H2088.5V316.2H2089V316.1H2089.5V313.0H2090V310.3H2090.5V312.0H2091V306.7H2091.5V316.2H2092V310.9H2092.5V311.3H2093V314.8H2093.5V316.2H2095.5V317.8H2095V317.8H2094.5V318.9H2094V321.9H2093.5V319.4H2093V317.8H2092.5V317.8H2092V320.2H2091.5V320.3H2091V318.5H2090.5V317.8H2090V317.9H2089.5V320.1H2089V320.3H2088.5V318.2H2088V317.8H2087.5V318.1H2087V320.3H2086.5V320.2H2086V318.0H2085.5V317.8H2085V318.4H2084.5V320.3H2084V320.0H2083.5V317.8H2083V317.8H2082.5V318.7H2082V320.6H2081.5V320.2H2081V317.8H2080.5V317.8H2080V319.2H2079.5V321.1H2079V320.3H2078.5V317.9H2078V317.9H2077.5V319.8H2077V321.6H2076.5V320.4H2076V318.0H2075.5V318.0H2075V320.5H2074.5V322.1H2074V320.5H2073.5V318.1H2073V318.1H2072.5V321.4H2072V322.9H2071.5V320.6H2071V318.2H2070.5V318.3H2070V322.6H2069.5V323.9H2069V320.7H2068.5V318.5H2068V318.6H2067.5V324.1H2067V325.2H2066.5V320.8H2066V325.5H2065.5V325.7H2065V326.2H2064.5V326.4H2064V327.6H2063.5V327.8H2063V328.0H2062.5V328.4H2062V329.0H2061.5V329.7H2061V330.2H2060.5V330.6H2060V330.6H2059.5V330.6H2059V330.4H2058.5V330.9H2058V331.8H2057.5V332.5H2057V334.6H2056.5V334.6H2056V334.6H2055.5V333.9H2055V334.3H2054.5V335.6H2054V337.0H2053.5V340.7H2053V340.7H2052.5V340.7H2052V335.1H2051.5V335.1H2051V337.3H2050.5V338.2H2050V345.4H2049.5V345.4H2049V345.4H2048.5V338.0H2048V337.8H2047.5V339.8H2047V341.0H2046.5V347.8H2046V348.5H2045.5V349.5H2045V350.4H2044.5V351.4H2044V352.5H2043.5V353.5H2043V354.2H2042.5V355.0H2042V355.8H2041.5V356.6H2041V357.5H2040.5V359.1H2040V360.8H2039.5V362.1H2039V362.1H2038.5V362.4H2038V363.3H2037.5V364.3H2037V367.7H2036.5V369.6H2036V377.5H2035.5V377.5H2035V377.5H2034.5V357.4H2034V356.5H2033.5V363.3H2033V370.0H2032.5V393.0H2032V393.0H2031.5V393.0H2031V375.7H2030.5V375.9H2030V379.7H2029.5V383.5H2029V397.8H2028.5V397.8H2028V397.8H2027.5V365.7H2027V362.6H2026.5V368.8H2026V368.3H2025.5V395.0H2025V395.0H2024.5V395.0H2024V368.8H2023.5V364.9H2023V369.1H2022.5V371.8H2022V391.6H2021.5V391.6H2021V391.6H2020.5V368.3H2020V365.1H2019.5V365.7H2019V368.7H2018.5V383.2H2018V383.2H2017.5V383.2H2017V351.0H2016.5V346.6H2016V349.5H2015.5V354.6H2015V378.3H2014.5V378.3H2014V378.3H2013.5V354.4H2013V353.8H2012.5V355.2H2012V358.6H2011.5V374.9H2011V374.9H2010.5V374.9H2010V358.0H2009.5V356.0H2009V357.5H2008.5V359.2H2008V372.6H2007.5V372.6H2007V372.6H2006.5V353.6H2006V351.5H2005.5V354.9H2005V357.6H2004.5V370.3H2004V370.3H2003.5V370.3H2003V353.4H2002.5V351.8H2002V353.8H2001.5V354.9H2001V364.4H2000.5V364.4H2000V364.4H1999.5V352.5H1999V352.2H1998.5V354.9H1998V357.8H1997.5V367.3H1997V367.3H1996.5V367.3H1996V362.9H1995.5V363.0H1995V364.4H1994.5V367.2H1994V373.4H1993.5V373.4H1993V373.4H1992.5V349.4H1992V348.4H1991.5V353.5H1991V357.0H1990.5V377.8H1990V377.8H1989.5V377.8H1989V353.7H1988.5V353.8H1988V356.3H1987.5V360.7H1987V382.1H1986.5V382.1H1986V382.1H1985.5V369.4H1985V368.5H1984.5V372.1H1984V373.4H1983.5V385.7H1983V385.7H1982.5V385.7H1982V363.1H1981.5V359.6H1981V364.0H1980.5V366.5H1980V387.9H1979.5V387.9H1979V387.9H1978.5V377.2H1978V376.3H1977.5V377.5H1977V379.9H1976.5V390.0H1976V390.0H1975.5V390.0H1975V375.6H1974.5V374.6H1974V377.7H1973.5V380.7H1973V393.0H1972.5V393.0H1972V393.0H1971.5V357.1H1971V356.1H1970.5V363.8H1970V368.1H1969.5V395.4H1969V395.4H1968.5V395.4H1968V361.7H1967.5V358.3H1967V362.9H1966.5V368.8H1966V396.8H1965.5V396.8H1965V396.8H1964.5V369.3H1964V368.2H1963.5V373.7H1963V376.4H1962.5V395.5H1962V395.5H1961.5V395.5H1961V362.7H1960.5V360.8H1960V365.8H1959.5V370.7H1959V391.5H1958.5V391.5H1958V391.5H1957.5V366.0H1957V365.6H1956.5V369.4H1956V371.5H1955.5V387.9H1955V387.9H1954.5V387.9H1954V367.5H1953.5V364.9H1953V368.0H1952.5V370.9H1952V388.9H1951.5V388.9H1951V388.9H1950.5V360.7H1950V356.3H1949.5V358.4H1949V363.1H1948.5V386.7H1948V386.7H1947.5V386.7H1947V354.6H1946.5V350.4H1946V353.6H1945.5V357.7H1945V385.0H1944.5V385.0H1944V385.0H1943.5V358.8H1943V357.9H1942.5V361.3H1942V367.2H1941.5V385.8H1941V385.8H1940.5V385.8H1940V357.9H1939.5V354.6H1939V359.7H1938.5V360.7H1938V384.2H1937.5V384.2H1937V384.2H1936.5V353.7H1936V351.5H1935.5V357.2H1935V359.5H1934.5V383.4H1934V383.4H1933.5V383.4H1933V350.6H1932.5V348.6H1932V355.6H1931.5V356.5H1931V384.3H1930.5V384.3H1930V384.3H1929.5V362.8H1929V361.0H1928.5V363.0H1928V369.3H1927.5V384.2H1927V384.2H1926.5V384.2H1926V355.0H1925.5V353.1H1925V356.6H1924.5V361.8H1924V387.0H1923.5V387.0H1923V387.0H1922.5V352.6H1922V350.4H1921.5V356.7H1921V361.5H1920.5V388.2H1920V388.2H1919.5V388.2H1919V362.4H1918.5V361.7H1918V366.1H1917.5V369.7H1917V389.9H1916.5V389.9H1916V389.9H1915.5V359.5H1915V357.3H1914.5V362.3H1914V368.2H1913.5V393.4H1913V393.4H1912.5V393.4H1912V360.3H1911.5V359.9H1911V365.3H1910.5V371.6H1910V395.6H1909.5V395.6H1909V395.6H1908.5V363.8H1908V361.0H1907.5V366.4H1907V370.7H1906.5V395.2H1906V395.2H1905.5V395.2H1905V357.1H1904.5V355.3H1904V358.4H1903.5V367.4H1903V393.2H1902.5V393.2H1902V393.2H1901.5V358.1H1901V358.0H1900.5V365.6H1900V371.0H1899.5V401.2H1899V401.2H1898.5V401.2H1898V356.0H1897.5V353.4H1897V357.7H1896.5V367.3H1896V397.1H1895.5V397.1H1895V397.1H1894.5V371.3H1894V369.8H1893.5V372.2H1893V379.6H1892.5V399.2H1892V399.2H1891.5V399.2H1891V362.1H1890.5V357.1H1890V364.9H1889.5V368.6H1889V396.4H1888.5V396.4H1888V396.4H1887.5V379.5H1887V377.0H1886.5V377.2H1886V380.5H1885.5V383.2H1885V394.8H1884.5V394.8H1884V394.8H1883.5V379.4H1883V378.1H1882.5V378.3H1882V381.3H1881.5V387.5H1881V406.6H1880.5V406.6H1880V406.6H1879.5V363.6H1879V367.6H1878.5V391.1H1878V391.1H1877.5V391.1H1877V372.7H1876.5V374.4H1876V376.9H1875.5V391.0H1875V391.0H1874.5V391.0H1874V376.7H1873.5V376.0H1873V376.0H1872.5V377.6H1872V378.6H1871.5V388.1H1871V388.1H1870.5V388.1H1870V363.8H1869.5V363.4H1869V365.3H1868.5V369.9H1868V385.2H1867.5V385.2H1867V385.2H1866.5V379.5H1866V379.2H1865.5V379.5H1865V380.3H1864.5V382.5H1864V382.5H1863.5V382.5H1863V358.7H1862.5V357.9H1862V357.9H1861.5V361.3H1861V363.7H1860.5V382.5H1860V382.5H1859.5V382.5H1859V360.2H1858.5V359.9H1858V362.6H1857.5V364.1H1857V379.2H1856.5V379.2H1856V379.2H1855.5V364.7H1855V364.2H1854.5V364.2H1854V366.0H1853.5V369.4H1853V388.9H1852.5V388.9H1852V388.9H1851.5V371.0H1851V369.9H1850.5V374.3H1850V385.7H1849.5V385.7H1849V385.7H1848.5V373.8H1848V375.6H1847.5V376.3H1847V383.9H1846.5V383.9H1846V383.9H1845.5V373.1H1845V374.2H1844.5V380.2H1844V399.2H1843.5V399.2H1843V399.2H1842.5V355.9H1842V355.1H1841.5V358.4H1841V361.9H1840.5V377.1H1840V377.1H1839.5V377.1H1839V355.6H1838.5V352.9H1838V356.0H1837.5V357.6H1837V369.4H1836.5V369.4H1836V369.4H1835.5V357.1H1835V355.2H1834.5V356.1H1834V357.4H1833.5V362.8H1833V362.8H1832.5V362.8H1832V360.5H1831.5V361.3H1831V363.4H1830.5V365.0H1830V366.6H1829.5V367.6H1829V369.1H1828.5V370.6H1828V371.4H1827.5V372.2H1827V372.2H1826.5V374.2H1826V374.2H1825.5V374.2H1825V369.8H1824.5V369.2H1824V370.0H1823.5V371.3H1823V378.6H1822.5V378.6H1822V378.6H1821.5V357.9H1821V360.3H1820.5V361.1H1820V372.7H1819.5V372.7H1819V372.7H1818.5V354.3H1818V355.8H1817.5V356.7H1817V374.5H1816.5V374.5H1816V374.5H1815.5V356.1H1815V355.6H1814.5V358.5H1814V370.4H1813.5V370.4H1813V370.4H1812.5V348.9H1812V347.9H1811.5V351.6H1811V356.9H1810.5V376.6H1810V376.6H1809.5V376.6H1809V364.2H1808.5V364.0H1808V365.4H1807.5V366.2H1807V375.2H1806.5V375.2H1806V375.2H1805.5V348.0H1805V349.4H1804.5V355.9H1804V383.6H1803.5V383.6H1803V317.8H1802.5Z"/>
<g font-family="Liberation Sans, Arial, Helvetica, sans-serif" fill="#262626" font-size="21">
<text x="324.9" y="611.1" text-anchor="middle">0</text>
<text x="647.9" y="611.1" text-anchor="middle">0.5</text>
<text x="970.9" y="611.1" text-anchor="middle">1</text>
<text x="1293.9" y="611.1" text-anchor="middle">1.5</text>
<text x="1616.9" y="611.1" text-anchor="middle">2</text>
<text x="1939.9" y="611.1" text-anchor="middle">2.5</text>
<text x="2262.9" y="611.1" text-anchor="middle">3</text>
<text x="316.4" y="55.5" text-anchor="end" font-size="20.8">0.5</text>
<text x="316.4" y="109.1" text-anchor="end" font-size="20.8">0.4</text>
<text x="316.4" y="162.7" text-anchor="end" font-size="20.8">0.3</text>
<text x="316.4" y="216.3" text-anchor="end" font-size="20.8">0.2</text>
<text x="316.4" y="269.9" text-anchor="end" font-size="20.8">0.1</text>
<text x="316.4" y="323.5" text-anchor="end" font-size="20.8">0</text>
<text x="316.4" y="377.1" text-anchor="end" font-size="20.8">-0.1</text>
<text x="316.4" y="430.7" text-anchor="end" font-size="20.8">-0.2</text>
<text x="316.4" y="484.3" text-anchor="end" font-size="20.8">-0.3</text>
<text x="316.4" y="537.9" text-anchor="end" font-size="20.8">-0.4</text>
<text x="316.4" y="591.5" text-anchor="end" font-size="20.8">-0.5</text>
<text x="1294.2" y="638.8" text-anchor="middle" font-size="22.9">Time (s)</text>
<text transform="translate(267.6,317) rotate(-90)" text-anchor="middle" font-size="22.9">Amplitude</text>
<text x="1294.2" y="41.2" text-anchor="middle" font-size="22.9" font-weight="bold">Sentence MAT-005-072 (Colored by Word)</text>
</g></svg></body></html>
